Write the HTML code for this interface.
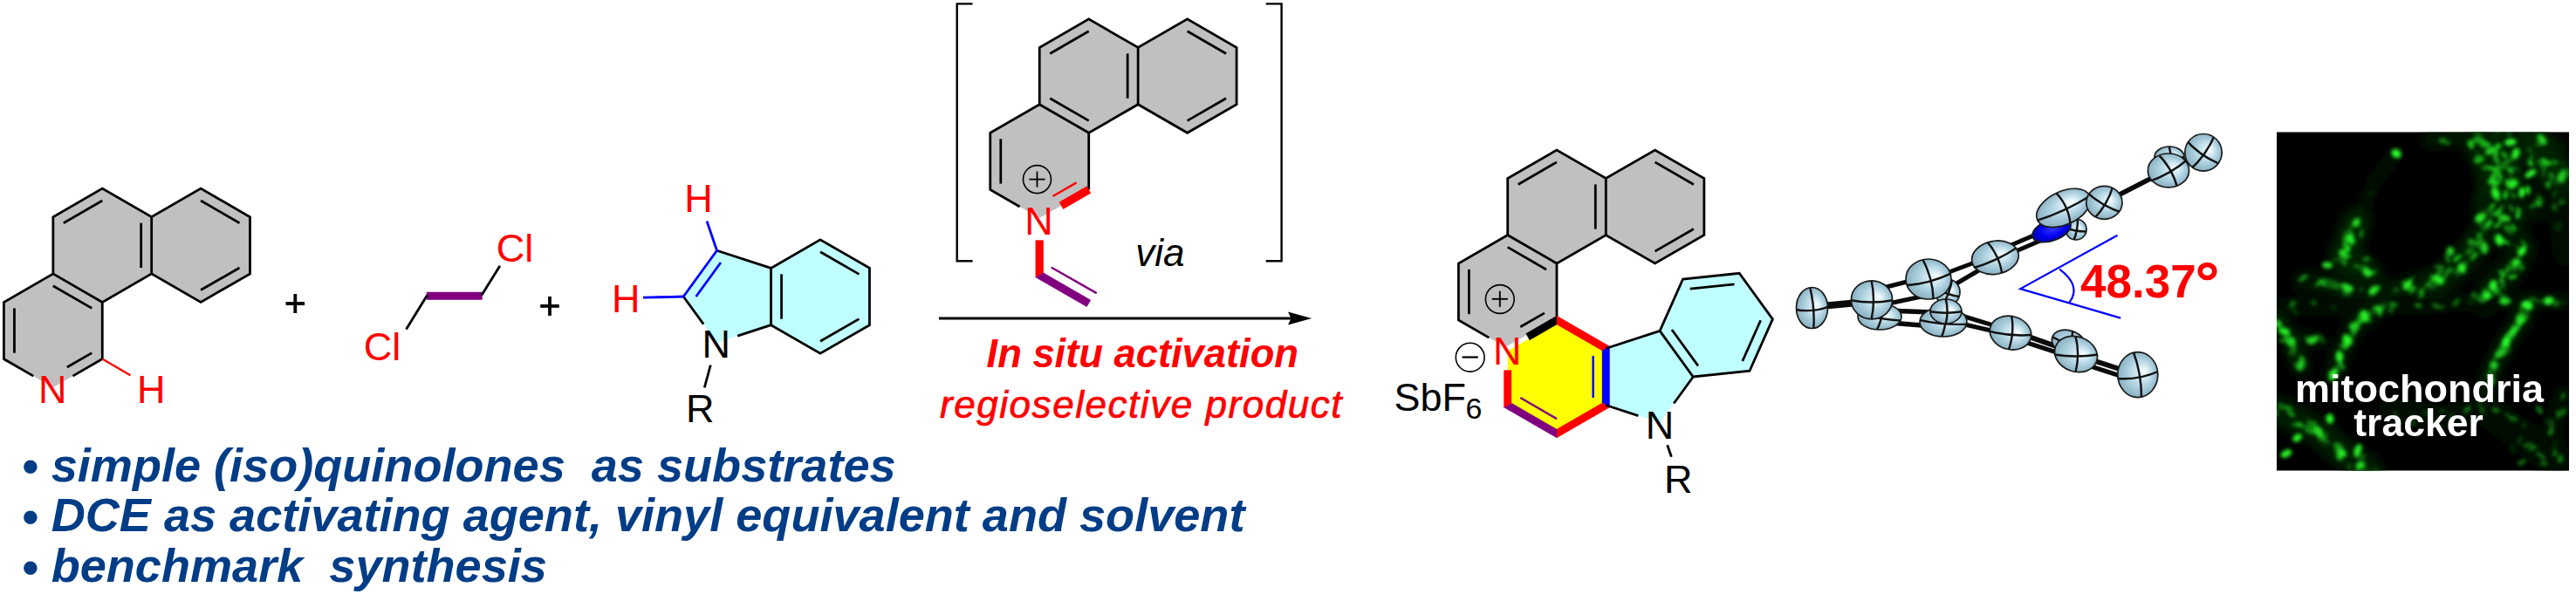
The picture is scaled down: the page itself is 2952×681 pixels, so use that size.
<!DOCTYPE html>
<html><head><meta charset="utf-8"><style>
html,body{margin:0;padding:0;background:#fff;}
body{width:2952px;height:681px;overflow:hidden;position:relative;}
svg{position:absolute;left:0;top:0;}
svg text{font-family:"Liberation Sans", sans-serif;}
</style></head><body>
<svg width="2952" height="681" viewBox="0 0 2952 681">
<defs><radialGradient id="eg" cx="0.5" cy="0.5" r="0.55" fx="0.68" fy="0.42"><stop offset="0" stop-color="#ffffff"/><stop offset="0.18" stop-color="#dff0f7"/><stop offset="0.55" stop-color="#b0d3e1"/><stop offset="0.88" stop-color="#8fb5c5"/><stop offset="1" stop-color="#6f93a2"/></radialGradient>
<radialGradient id="ebl" cx="0.5" cy="0.5" r="0.55" fx="0.6" fy="0.4"><stop offset="0" stop-color="#4040ff"/><stop offset="0.6" stop-color="#0000f0"/><stop offset="1" stop-color="#0000a0"/></radialGradient>
<filter id="bl" x="-20%" y="-20%" width="140%" height="140%"><feGaussianBlur stdDeviation="6"/></filter>
<filter id="bl2" x="-20%" y="-20%" width="140%" height="140%"><feGaussianBlur stdDeviation="2.2"/></filter>
<clipPath id="mc"><rect x="2609" y="151.5" width="335" height="388"/></clipPath></defs>
<polygon points="117.26,216.16 173.67,248.73 230.09,216.16 286.50,248.73 286.50,313.87 230.09,346.44 173.67,313.87 117.26,346.44 117.26,411.58 60.85,444.15 4.43,411.58 4.43,346.44 60.85,313.87 60.85,248.73" fill="#c0c0c0"/>
<polyline points="60.85,313.87 60.85,248.73 117.26,216.16 173.67,248.73 230.09,216.16 286.50,248.73 286.50,313.87 230.09,346.44 173.67,313.87 117.26,346.44 117.26,411.58" fill="none" stroke="#000" stroke-width="2.80" stroke-linejoin="miter"/>
<line x1="173.67" y1="248.73" x2="173.67" y2="313.87" stroke="#000" stroke-width="2.80" stroke-linecap="butt"/>
<line x1="117.26" y1="346.44" x2="60.85" y2="313.87" stroke="#000" stroke-width="2.80" stroke-linecap="butt"/>
<polyline points="38.28,431.12 4.43,411.58 4.43,346.44 60.85,313.87" fill="none" stroke="#000" stroke-width="2.80" stroke-linejoin="miter"/>
<line x1="117.26" y1="411.58" x2="83.41" y2="431.12" stroke="#000" stroke-width="2.80" stroke-linecap="butt"/>
<line x1="72.86" y1="255.67" x2="117.26" y2="230.03" stroke="#000" stroke-width="2.80" stroke-linecap="butt"/>
<line x1="161.66" y1="255.67" x2="161.66" y2="306.93" stroke="#000" stroke-width="2.80" stroke-linecap="butt"/>
<line x1="230.09" y1="230.03" x2="274.48" y2="255.67" stroke="#000" stroke-width="2.80" stroke-linecap="butt"/>
<line x1="274.48" y1="306.93" x2="230.09" y2="332.57" stroke="#000" stroke-width="2.80" stroke-linecap="butt"/>
<line x1="60.85" y1="327.74" x2="105.24" y2="353.38" stroke="#000" stroke-width="2.80" stroke-linecap="butt"/>
<line x1="16.45" y1="404.64" x2="16.45" y2="353.38" stroke="#000" stroke-width="2.80" stroke-linecap="butt"/>
<line x1="105.24" y1="404.64" x2="76.83" y2="421.05" stroke="#000" stroke-width="2.80" stroke-linecap="butt"/>
<line x1="117.26" y1="411.58" x2="149.42" y2="430.14" stroke="#ff0000" stroke-width="2.30" stroke-linecap="butt"/>
<text x="60.20" y="462.11" font-size="45.0" fill="#ff0000" text-anchor="middle" font-weight="normal" font-style="normal" >N</text>
<text x="173.20" y="462.36" font-size="45.0" fill="#ff0000" text-anchor="middle" font-weight="normal" font-style="normal" >H</text>
<line x1="327.55" y1="348.00" x2="349.05" y2="348.00" stroke="#000" stroke-width="3.80" stroke-linecap="butt"/>
<line x1="338.30" y1="337.00" x2="338.30" y2="359.00" stroke="#000" stroke-width="3.80" stroke-linecap="butt"/>
<line x1="619.25" y1="350.90" x2="640.75" y2="350.90" stroke="#000" stroke-width="3.80" stroke-linecap="butt"/>
<line x1="630.00" y1="339.90" x2="630.00" y2="361.90" stroke="#000" stroke-width="3.80" stroke-linecap="butt"/>
<line x1="488.70" y1="339.30" x2="552.70" y2="339.30" stroke="#800080" stroke-width="9.00" stroke-linecap="butt"/>
<line x1="489.50" y1="338.50" x2="465.50" y2="377.50" stroke="#000" stroke-width="2.80" stroke-linecap="butt"/>
<line x1="551.90" y1="338.50" x2="572.90" y2="304.80" stroke="#000" stroke-width="2.80" stroke-linecap="butt"/>
<text x="438.00" y="413.36" font-size="45.0" fill="#ff0000" text-anchor="middle" font-weight="normal" font-style="normal" >Cl</text>
<text x="590.00" y="300.36" font-size="45.0" fill="#ff0000" text-anchor="middle" font-weight="normal" font-style="normal" >Cl</text>
<polygon points="940.00,274.80 996.46,307.40 996.46,372.60 940.00,405.20 883.54,372.60 883.54,372.60 821.53,392.75 783.20,340.00 821.53,287.25 883.54,307.40 883.54,307.40" fill="#c0ffff"/>
<polyline points="821.53,287.25 883.54,307.40 940.00,274.80 996.46,307.40 996.46,372.60 940.00,405.20 883.54,372.60 883.54,307.40" fill="none" stroke="#000" stroke-width="2.80" stroke-linejoin="miter"/>
<line x1="883.54" y1="372.60" x2="845.09" y2="385.09" stroke="#000" stroke-width="2.80" stroke-linecap="butt"/>
<line x1="783.20" y1="340.00" x2="806.20" y2="371.65" stroke="#000" stroke-width="2.80" stroke-linecap="butt"/>
<line x1="783.20" y1="340.00" x2="821.53" y2="287.25" stroke="#0000ff" stroke-width="2.80" stroke-linecap="round"/>
<line x1="797.62" y1="340.00" x2="825.98" y2="300.97" stroke="#0000ff" stroke-width="2.80" stroke-linecap="butt"/>
<line x1="895.56" y1="365.66" x2="895.56" y2="314.34" stroke="#000" stroke-width="2.80" stroke-linecap="butt"/>
<line x1="940.00" y1="288.69" x2="984.44" y2="314.34" stroke="#000" stroke-width="2.80" stroke-linecap="butt"/>
<line x1="984.44" y1="365.66" x2="940.00" y2="391.31" stroke="#000" stroke-width="2.80" stroke-linecap="butt"/>
<line x1="821.53" y1="287.25" x2="810.03" y2="253.45" stroke="#0000ff" stroke-width="2.80" stroke-linecap="butt"/>
<line x1="783.20" y1="340.00" x2="737.00" y2="341.19" stroke="#0000ff" stroke-width="2.80" stroke-linecap="butt"/>
<text x="800.50" y="243.26" font-size="45.0" fill="#ff0000" text-anchor="middle" font-weight="normal" font-style="normal" >H</text>
<text x="717.20" y="358.06" font-size="45.0" fill="#ff0000" text-anchor="middle" font-weight="normal" font-style="normal" >H</text>
<text x="820.75" y="409.66" font-size="45.0" fill="#000" text-anchor="middle" font-weight="normal" font-style="normal" >N</text>
<text x="802.20" y="484.26" font-size="45.0" fill="#000" text-anchor="middle" font-weight="normal" font-style="normal" >R</text>
<line x1="814.30" y1="418.50" x2="807.30" y2="444.40" stroke="#000" stroke-width="2.80" stroke-linecap="butt"/>
<text x="24.70" y="551.50" font-size="54.1" fill="#003d86" text-anchor="start" font-weight="bold" font-style="italic" style="white-space:pre"><tspan dy="1.5">•</tspan><tspan dy="-1.5"> simple (iso)quinolones  as substrates</tspan></text>
<text x="24.70" y="609.20" font-size="54.1" fill="#003d86" text-anchor="start" font-weight="bold" font-style="italic" style="white-space:pre"><tspan dy="1.5">•</tspan><tspan dy="-1.5"> DCE as activating agent, vinyl equivalent and solvent</tspan></text>
<text x="24.70" y="667.00" font-size="54.1" fill="#003d86" text-anchor="start" font-weight="bold" font-style="italic" style="white-space:pre"><tspan dy="1.5">•</tspan><tspan dy="-1.5"> benchmark  synthesis</tspan></text>
<line x1="1076.00" y1="365.00" x2="1480.00" y2="365.00" stroke="#000" stroke-width="2.80" stroke-linecap="butt"/>
<polygon points="1503.2,365 1476,357.5 1479.5,365 1476,372.5" fill="#000"/>
<text x="1130.60" y="421.00" font-size="45.3" fill="#ff0000" text-anchor="start" font-weight="bold" font-style="italic" >In situ activation</text>
<text x="1077.00" y="478.60" font-size="44.0" fill="#ff0000" text-anchor="start" font-weight="normal" font-style="italic" letter-spacing="1.55" stroke="#ff0000" stroke-width="0.7">regioselective product</text>
<text x="1301.30" y="305.40" font-size="44.0" fill="#000" text-anchor="start" font-weight="normal" font-style="italic" >via</text>
<polyline points="1114.50,4.40 1096.70,4.40 1096.70,299.20 1114.50,299.20" fill="none" stroke="#000" stroke-width="2.40" stroke-linejoin="miter"/>
<polyline points="1450.70,4.40 1468.60,4.40 1468.60,299.20 1450.70,299.20" fill="none" stroke="#000" stroke-width="2.40" stroke-linejoin="miter"/>
<polygon points="1247.70,21.90 1304.16,54.50 1360.63,21.90 1417.09,54.50 1417.09,119.70 1360.63,152.30 1304.16,119.70 1247.70,152.30 1247.70,217.50 1191.24,250.10 1134.77,217.50 1134.77,152.30 1191.24,119.70 1191.24,54.50" fill="#c0c0c0"/>
<polyline points="1191.24,119.70 1191.24,54.50 1247.70,21.90 1304.16,54.50 1360.63,21.90 1417.09,54.50 1417.09,119.70 1360.63,152.30 1304.16,119.70 1247.70,152.30 1247.70,217.50" fill="none" stroke="#000" stroke-width="2.80" stroke-linejoin="miter"/>
<line x1="1304.16" y1="54.50" x2="1304.16" y2="119.70" stroke="#000" stroke-width="2.80" stroke-linecap="butt"/>
<line x1="1247.70" y1="152.30" x2="1191.24" y2="119.70" stroke="#000" stroke-width="2.80" stroke-linecap="butt"/>
<polyline points="1168.65,237.06 1134.77,217.50 1134.77,152.30 1191.24,119.70" fill="none" stroke="#000" stroke-width="2.80" stroke-linejoin="miter"/>
<line x1="1203.26" y1="61.44" x2="1247.70" y2="35.79" stroke="#000" stroke-width="2.80" stroke-linecap="butt"/>
<line x1="1292.14" y1="61.44" x2="1292.14" y2="112.76" stroke="#000" stroke-width="2.80" stroke-linecap="butt"/>
<line x1="1247.70" y1="138.41" x2="1203.26" y2="112.76" stroke="#000" stroke-width="2.80" stroke-linecap="butt"/>
<line x1="1360.63" y1="35.79" x2="1405.07" y2="61.44" stroke="#000" stroke-width="2.80" stroke-linecap="butt"/>
<line x1="1405.07" y1="112.76" x2="1360.63" y2="138.41" stroke="#000" stroke-width="2.80" stroke-linecap="butt"/>
<line x1="1146.80" y1="210.56" x2="1146.80" y2="159.24" stroke="#000" stroke-width="2.80" stroke-linecap="butt"/>
<line x1="1233.58" y1="209.35" x2="1206.48" y2="225.00" stroke="#ff0000" stroke-width="2.40" stroke-linecap="butt"/>
<polygon points="1245.45,213.60 1213.83,231.86 1218.33,239.65 1249.95,221.40" fill="#ff0000" stroke="#ff0000" stroke-width="0.3"/>
<circle cx="1188.5" cy="205.6" r="16" fill="none" stroke="#000" stroke-width="1.6"/>
<line x1="1179.50" y1="205.60" x2="1197.50" y2="205.60" stroke="#000" stroke-width="1.80" stroke-linecap="butt"/>
<line x1="1188.50" y1="196.60" x2="1188.50" y2="214.60" stroke="#000" stroke-width="1.80" stroke-linecap="butt"/>
<text x="1190.50" y="268.56" font-size="45.0" fill="#ff0000" text-anchor="middle" font-weight="normal" font-style="normal" >N</text>
<polygon points="1186.74,275.50 1186.74,317.90 1195.74,312.70 1195.74,275.50" fill="#ff0000" stroke="#ff0000" stroke-width="0.3"/>
<polygon points="1186.74,317.90 1245.45,351.80 1249.95,344.00 1195.74,312.70" fill="#800080" stroke="#800080" stroke-width="0.3"/>
<line x1="1205.60" y1="307.00" x2="1255.80" y2="335.70" stroke="#800080" stroke-width="2.50" stroke-linecap="round"/>
<polygon points="1784.00,172.00 1840.29,204.50 1896.58,172.00 1952.87,204.50 1952.87,269.50 1896.58,302.00 1840.29,269.50 1784.00,302.00 1784.00,367.00 1727.71,399.50 1671.42,367.00 1671.42,302.00 1727.71,269.50 1727.71,204.50" fill="#c0c0c0"/>
<polygon points="1784.00,367.00 1840.29,399.50 1840.29,464.50 1784.00,497.00 1727.71,464.50 1727.71,399.50" fill="#ffff00"/>
<polygon points="1840.29,399.50 1902.11,379.41 1928.55,320.03 1993.19,313.24 2031.40,365.83 2004.96,425.21 1940.32,432.00 1902.11,484.59 1840.29,464.50" fill="#c0ffff"/>
<line x1="1727.71" y1="399.50" x2="1784.00" y2="367.00" stroke="#fff" stroke-width="5.00" stroke-linecap="butt"/>
<polyline points="1727.71,269.50 1727.71,204.50 1784.00,172.00 1840.29,204.50 1896.58,172.00 1952.87,204.50 1952.87,269.50 1896.58,302.00 1840.29,269.50 1784.00,302.00 1784.00,367.00" fill="none" stroke="#000" stroke-width="2.80" stroke-linejoin="miter"/>
<line x1="1840.29" y1="204.50" x2="1840.29" y2="269.50" stroke="#000" stroke-width="2.80" stroke-linecap="butt"/>
<line x1="1784.00" y1="302.00" x2="1727.71" y2="269.50" stroke="#000" stroke-width="2.80" stroke-linecap="butt"/>
<polyline points="1706.32,387.15 1671.42,367.00 1671.42,302.00 1727.71,269.50" fill="none" stroke="#000" stroke-width="2.80" stroke-linejoin="miter"/>
<line x1="1739.70" y1="211.42" x2="1784.00" y2="185.84" stroke="#000" stroke-width="2.80" stroke-linecap="butt"/>
<line x1="1828.30" y1="211.42" x2="1828.30" y2="262.58" stroke="#000" stroke-width="2.80" stroke-linecap="butt"/>
<line x1="1896.58" y1="185.84" x2="1940.88" y2="211.42" stroke="#000" stroke-width="2.80" stroke-linecap="butt"/>
<line x1="1940.88" y1="262.58" x2="1896.58" y2="288.15" stroke="#000" stroke-width="2.80" stroke-linecap="butt"/>
<line x1="1727.71" y1="283.35" x2="1772.01" y2="308.92" stroke="#000" stroke-width="2.80" stroke-linecap="butt"/>
<line x1="1683.41" y1="360.08" x2="1683.41" y2="308.92" stroke="#000" stroke-width="2.80" stroke-linecap="butt"/>
<line x1="1769.93" y1="358.88" x2="1742.32" y2="374.82" stroke="#000" stroke-width="2.80" stroke-linecap="butt"/>
<polygon points="1752.94,389.90 1784.00,371.97 1784.00,362.03 1748.64,382.45" fill="#000" stroke="#000" stroke-width="0.3"/>
<polygon points="1784.00,371.97 1835.99,401.98 1844.59,397.02 1784.00,362.03" fill="#ff0000" stroke="#ff0000" stroke-width="0.3"/>
<polygon points="1835.99,401.98 1835.99,462.02 1844.59,466.98 1844.59,397.02" fill="#0000ff" stroke="#0000ff" stroke-width="0.3"/>
<polygon points="1835.99,462.02 1784.00,492.03 1784.00,501.97 1844.59,466.98" fill="#ff0000" stroke="#ff0000" stroke-width="0.3"/>
<polygon points="1784.00,492.03 1732.01,462.02 1723.41,466.98 1784.00,501.97" fill="#800080" stroke="#800080" stroke-width="0.3"/>
<polygon points="1732.01,462.02 1732.01,424.52 1723.41,424.52 1723.41,466.98" fill="#ff0000" stroke="#ff0000" stroke-width="0.3"/>
<line x1="1825.66" y1="407.95" x2="1825.66" y2="456.05" stroke="#0000ff" stroke-width="2.40" stroke-linecap="butt"/>
<line x1="1784.00" y1="480.10" x2="1742.34" y2="456.05" stroke="#800080" stroke-width="2.40" stroke-linecap="butt"/>
<polyline points="1902.11,379.41 1928.55,320.03 1993.19,313.24 2031.40,365.83 2004.96,425.21 1940.32,432.00 1902.11,379.41" fill="none" stroke="#000" stroke-width="2.80" stroke-linejoin="miter"/>
<line x1="1840.29" y1="399.50" x2="1902.11" y2="379.41" stroke="#000" stroke-width="2.80" stroke-linecap="butt"/>
<line x1="1940.32" y1="432.00" x2="1918.16" y2="462.50" stroke="#000" stroke-width="2.80" stroke-linecap="butt"/>
<line x1="1840.29" y1="464.50" x2="1877.38" y2="476.55" stroke="#000" stroke-width="2.80" stroke-linecap="butt"/>
<line x1="1915.88" y1="377.97" x2="1945.95" y2="419.35" stroke="#000" stroke-width="2.80" stroke-linecap="butt"/>
<line x1="1936.69" y1="331.23" x2="1987.56" y2="325.89" stroke="#000" stroke-width="2.80" stroke-linecap="butt"/>
<line x1="2017.63" y1="367.27" x2="1996.82" y2="414.00" stroke="#000" stroke-width="2.80" stroke-linecap="butt"/>
<text x="1901.90" y="503.36" font-size="45.0" fill="#000" text-anchor="middle" font-weight="normal" font-style="normal" >N</text>
<text x="1923.20" y="565.46" font-size="45.0" fill="#000" text-anchor="middle" font-weight="normal" font-style="normal" >R</text>
<line x1="1910.70" y1="510.30" x2="1915.40" y2="523.70" stroke="#000" stroke-width="2.80" stroke-linecap="butt"/>
<circle cx="1718.8" cy="343" r="16.4" fill="none" stroke="#000" stroke-width="1.6"/>
<line x1="1709.70" y1="342.80" x2="1727.90" y2="342.80" stroke="#000" stroke-width="1.90" stroke-linecap="butt"/>
<line x1="1718.80" y1="333.70" x2="1718.80" y2="351.90" stroke="#000" stroke-width="1.90" stroke-linecap="butt"/>
<text x="1727.30" y="417.96" font-size="45.0" fill="#ff0000" text-anchor="middle" font-weight="normal" font-style="normal" >N</text>
<circle cx="1684.7" cy="409.7" r="16.4" fill="none" stroke="#000" stroke-width="1.6"/>
<line x1="1675.60" y1="409.50" x2="1693.80" y2="409.50" stroke="#000" stroke-width="2.20" stroke-linecap="butt"/>
<text x="1597.50" y="470.70" font-size="45.0" fill="#000" text-anchor="start" font-weight="normal" font-style="normal" >SbF</text>
<text x="1679.50" y="479.60" font-size="34.0" fill="#000" text-anchor="start" font-weight="normal" font-style="normal" >6</text>
<line x1="2076.00" y1="352.00" x2="2140.00" y2="346.00" stroke="#0a0a0a" stroke-width="8.00" stroke-linecap="round"/>
<line x1="2150.00" y1="332.00" x2="2205.00" y2="318.00" stroke="#0a0a0a" stroke-width="5.00" stroke-linecap="round"/>
<line x1="2155.00" y1="350.00" x2="2230.00" y2="334.00" stroke="#0a0a0a" stroke-width="5.00" stroke-linecap="round"/>
<line x1="2236.00" y1="311.00" x2="2268.00" y2="299.00" stroke="#0a0a0a" stroke-width="5.00" stroke-linecap="round"/>
<line x1="2237.00" y1="328.00" x2="2271.00" y2="308.00" stroke="#0a0a0a" stroke-width="5.00" stroke-linecap="round"/>
<line x1="2300.00" y1="283.00" x2="2335.00" y2="268.00" stroke="#0a0a0a" stroke-width="5.00" stroke-linecap="round"/>
<line x1="2303.00" y1="291.00" x2="2338.00" y2="276.00" stroke="#0a0a0a" stroke-width="5.00" stroke-linecap="round"/>
<line x1="2160.00" y1="356.00" x2="2215.00" y2="358.00" stroke="#0a0a0a" stroke-width="5.50" stroke-linecap="round"/>
<line x1="2165.00" y1="370.00" x2="2215.00" y2="374.00" stroke="#0a0a0a" stroke-width="5.50" stroke-linecap="round"/>
<line x1="2245.00" y1="361.00" x2="2288.00" y2="374.00" stroke="#0a0a0a" stroke-width="5.00" stroke-linecap="round"/>
<line x1="2243.00" y1="370.00" x2="2286.00" y2="380.00" stroke="#0a0a0a" stroke-width="5.00" stroke-linecap="round"/>
<line x1="2322.00" y1="385.00" x2="2362.00" y2="399.00" stroke="#0a0a0a" stroke-width="6.00" stroke-linecap="round"/>
<line x1="2320.00" y1="392.00" x2="2360.00" y2="405.00" stroke="#0a0a0a" stroke-width="5.00" stroke-linecap="round"/>
<line x1="2398.00" y1="413.00" x2="2432.00" y2="424.00" stroke="#0a0a0a" stroke-width="6.00" stroke-linecap="round"/>
<line x1="2396.00" y1="420.00" x2="2430.00" y2="431.00" stroke="#0a0a0a" stroke-width="5.00" stroke-linecap="round"/>
<line x1="2427.00" y1="224.00" x2="2466.00" y2="204.00" stroke="#0a0a0a" stroke-width="5.50" stroke-linecap="round"/>
<line x1="2503.00" y1="185.00" x2="2512.00" y2="181.00" stroke="#0a0a0a" stroke-width="6.00" stroke-linecap="round"/>
<g transform="translate(2076.5,353.0) rotate(0.0)">
<ellipse cx="0" cy="0" rx="18.0" ry="23.5" fill="url(#eg)" stroke="#1a1a1a" stroke-width="1.7"/>
<clipPath id="c131"><ellipse cx="0" cy="0" rx="18.0" ry="23.5"/></clipPath>
<g clip-path="url(#c131)" transform="rotate(-5.0)"><path d="M-23.4,-1.2 Q0,7.0 23.4,-1.2" fill="none" stroke="#111" stroke-width="2.4"/><path d="M-1.4,-30.6 Q4.5,0 -1.4,30.6" fill="none" stroke="#111" stroke-width="2.4"/></g>
</g>
<g transform="translate(2154.0,363.0) rotate(0.0)">
<ellipse cx="0" cy="0" rx="25.0" ry="15.0" fill="url(#eg)" stroke="#1a1a1a" stroke-width="1.7"/>
<clipPath id="c136"><ellipse cx="0" cy="0" rx="25.0" ry="15.0"/></clipPath>
<g clip-path="url(#c136)" transform="rotate(10.0)"><path d="M-32.5,-0.8 Q0,4.5 32.5,-0.8" fill="none" stroke="#111" stroke-width="2.4"/><path d="M-2.0,-19.5 Q6.2,0 -2.0,19.5" fill="none" stroke="#111" stroke-width="2.4"/></g>
</g>
<g transform="translate(2145.0,343.8) rotate(0.0)">
<ellipse cx="0" cy="0" rx="23.6" ry="22.0" fill="url(#eg)" stroke="#1a1a1a" stroke-width="1.7"/>
<clipPath id="c141"><ellipse cx="0" cy="0" rx="23.6" ry="22.0"/></clipPath>
<g clip-path="url(#c141)" transform="rotate(0.0)"><path d="M-30.7,-1.1 Q0,6.6 30.7,-1.1" fill="none" stroke="#111" stroke-width="2.4"/><path d="M-1.9,-28.6 Q5.9,0 -1.9,28.6" fill="none" stroke="#111" stroke-width="2.4"/></g>
</g>
<g transform="translate(2232.0,335.0) rotate(0.0)">
<ellipse cx="0" cy="0" rx="14.0" ry="15.0" fill="url(#eg)" stroke="#1a1a1a" stroke-width="1.7"/>
<clipPath id="c146"><ellipse cx="0" cy="0" rx="14.0" ry="15.0"/></clipPath>
<g clip-path="url(#c146)" transform="rotate(20.0)"><path d="M-18.2,-0.8 Q0,4.5 18.2,-0.8" fill="none" stroke="#111" stroke-width="2.4"/><path d="M-1.1,-19.5 Q3.5,0 -1.1,19.5" fill="none" stroke="#111" stroke-width="2.4"/></g>
</g>
<g transform="translate(2227.0,369.0) rotate(0.0)">
<ellipse cx="0" cy="0" rx="27.0" ry="17.0" fill="url(#eg)" stroke="#1a1a1a" stroke-width="1.7"/>
<clipPath id="c151"><ellipse cx="0" cy="0" rx="27.0" ry="17.0"/></clipPath>
<g clip-path="url(#c151)" transform="rotate(5.0)"><path d="M-35.1,-0.9 Q0,5.1 35.1,-0.9" fill="none" stroke="#111" stroke-width="2.4"/><path d="M-2.2,-22.1 Q6.8,0 -2.2,22.1" fill="none" stroke="#111" stroke-width="2.4"/></g>
</g>
<g transform="translate(2230.0,357.0) rotate(0.0)">
<ellipse cx="0" cy="0" rx="18.0" ry="14.0" fill="url(#eg)" stroke="#1a1a1a" stroke-width="1.7"/>
<clipPath id="c156"><ellipse cx="0" cy="0" rx="18.0" ry="14.0"/></clipPath>
<g clip-path="url(#c156)" transform="rotate(0.0)"><path d="M-23.4,-0.7 Q0,4.2 23.4,-0.7" fill="none" stroke="#111" stroke-width="2.4"/><path d="M-1.4,-18.2 Q4.5,0 -1.4,18.2" fill="none" stroke="#111" stroke-width="2.4"/></g>
</g>
<g transform="translate(2210.0,320.0) rotate(0.0)">
<ellipse cx="0" cy="0" rx="26.0" ry="23.0" fill="url(#eg)" stroke="#1a1a1a" stroke-width="1.7"/>
<clipPath id="c161"><ellipse cx="0" cy="0" rx="26.0" ry="23.0"/></clipPath>
<g clip-path="url(#c161)" transform="rotate(-15.0)"><path d="M-33.8,-1.2 Q0,6.9 33.8,-1.2" fill="none" stroke="#111" stroke-width="2.4"/><path d="M-2.1,-29.9 Q6.5,0 -2.1,29.9" fill="none" stroke="#111" stroke-width="2.4"/></g>
</g>
<g transform="translate(2286.4,295.3) rotate(-10.0)">
<ellipse cx="0" cy="0" rx="27.0" ry="19.0" fill="url(#eg)" stroke="#1a1a1a" stroke-width="1.7"/>
<clipPath id="c166"><ellipse cx="0" cy="0" rx="27.0" ry="19.0"/></clipPath>
<g clip-path="url(#c166)" transform="rotate(-15.0)"><path d="M-35.1,-1.0 Q0,5.7 35.1,-1.0" fill="none" stroke="#111" stroke-width="2.4"/><path d="M-2.2,-24.7 Q6.8,0 -2.2,24.7" fill="none" stroke="#111" stroke-width="2.4"/></g>
</g>
<g transform="translate(2304.0,381.6) rotate(15.0)">
<ellipse cx="0" cy="0" rx="24.0" ry="19.0" fill="url(#eg)" stroke="#1a1a1a" stroke-width="1.7"/>
<clipPath id="c171"><ellipse cx="0" cy="0" rx="24.0" ry="19.0"/></clipPath>
<g clip-path="url(#c171)" transform="rotate(-10.0)"><path d="M-31.2,-1.0 Q0,5.7 31.2,-1.0" fill="none" stroke="#111" stroke-width="2.4"/><path d="M-1.9,-24.7 Q6.0,0 -1.9,24.7" fill="none" stroke="#111" stroke-width="2.4"/></g>
</g>
<g transform="translate(2379.0,263.0) rotate(0.0)">
<ellipse cx="0" cy="0" rx="12.0" ry="12.0" fill="url(#eg)" stroke="#1a1a1a" stroke-width="1.7"/>
<clipPath id="c176"><ellipse cx="0" cy="0" rx="12.0" ry="12.0"/></clipPath>
<g clip-path="url(#c176)" transform="rotate(10.0)"><path d="M-15.6,-0.6 Q0,3.6 15.6,-0.6" fill="none" stroke="#111" stroke-width="2.4"/><path d="M-1.0,-15.6 Q3.0,0 -1.0,15.6" fill="none" stroke="#111" stroke-width="2.4"/></g>
</g>
<g transform="translate(2351.0,264.0) rotate(-20.0)">
<ellipse cx="0" cy="0" rx="23.0" ry="12.0" fill="url(#ebl)" stroke="#1a1a1a" stroke-width="1.7"/>
</g>
<g transform="translate(2364.8,238.4) rotate(-25.0)">
<ellipse cx="0" cy="0" rx="33.0" ry="19.0" fill="url(#eg)" stroke="#1a1a1a" stroke-width="1.7"/>
<clipPath id="c184"><ellipse cx="0" cy="0" rx="33.0" ry="19.0"/></clipPath>
<g clip-path="url(#c184)" transform="rotate(0.0)"><path d="M-42.9,-1.0 Q0,5.7 42.9,-1.0" fill="none" stroke="#111" stroke-width="2.4"/><path d="M-2.6,-24.7 Q8.2,0 -2.6,24.7" fill="none" stroke="#111" stroke-width="2.4"/></g>
</g>
<g transform="translate(2411.4,232.3) rotate(0.0)">
<ellipse cx="0" cy="0" rx="20.6" ry="19.0" fill="url(#eg)" stroke="#1a1a1a" stroke-width="1.7"/>
<clipPath id="c189"><ellipse cx="0" cy="0" rx="20.6" ry="19.0"/></clipPath>
<g clip-path="url(#c189)" transform="rotate(30.0)"><path d="M-26.8,-1.0 Q0,5.7 26.8,-1.0" fill="none" stroke="#111" stroke-width="2.4"/><path d="M-1.6,-24.7 Q5.2,0 -1.6,24.7" fill="none" stroke="#111" stroke-width="2.4"/></g>
</g>
<g transform="translate(2370.8,393.0) rotate(20.0)">
<ellipse cx="0" cy="0" rx="20.0" ry="14.0" fill="url(#eg)" stroke="#1a1a1a" stroke-width="1.7"/>
<clipPath id="c194"><ellipse cx="0" cy="0" rx="20.0" ry="14.0"/></clipPath>
<g clip-path="url(#c194)" transform="rotate(0.0)"><path d="M-26.0,-0.7 Q0,4.2 26.0,-0.7" fill="none" stroke="#111" stroke-width="2.4"/><path d="M-1.6,-18.2 Q5.0,0 -1.6,18.2" fill="none" stroke="#111" stroke-width="2.4"/></g>
</g>
<g transform="translate(2379.0,406.0) rotate(20.0)">
<ellipse cx="0" cy="0" rx="25.0" ry="20.0" fill="url(#eg)" stroke="#1a1a1a" stroke-width="1.7"/>
<clipPath id="c199"><ellipse cx="0" cy="0" rx="25.0" ry="20.0"/></clipPath>
<g clip-path="url(#c199)" transform="rotate(-20.0)"><path d="M-32.5,-1.0 Q0,6.0 32.5,-1.0" fill="none" stroke="#111" stroke-width="2.4"/><path d="M-2.0,-26.0 Q6.2,0 -2.0,26.0" fill="none" stroke="#111" stroke-width="2.4"/></g>
</g>
<g transform="translate(2449.8,429.6) rotate(0.0)">
<ellipse cx="0" cy="0" rx="23.0" ry="26.0" fill="url(#eg)" stroke="#1a1a1a" stroke-width="1.7"/>
<clipPath id="c204"><ellipse cx="0" cy="0" rx="23.0" ry="26.0"/></clipPath>
<g clip-path="url(#c204)" transform="rotate(-10.0)"><path d="M-29.9,-1.3 Q0,7.8 29.9,-1.3" fill="none" stroke="#111" stroke-width="2.4"/><path d="M-1.8,-33.8 Q5.8,0 -1.8,33.8" fill="none" stroke="#111" stroke-width="2.4"/></g>
</g>
<g transform="translate(2486.0,180.0) rotate(0.0)">
<ellipse cx="0" cy="0" rx="17.0" ry="12.0" fill="url(#eg)" stroke="#1a1a1a" stroke-width="1.7"/>
<clipPath id="c209"><ellipse cx="0" cy="0" rx="17.0" ry="12.0"/></clipPath>
<g clip-path="url(#c209)" transform="rotate(0.0)"><path d="M-22.1,-0.6 Q0,3.6 22.1,-0.6" fill="none" stroke="#111" stroke-width="2.4"/><path d="M-1.4,-15.6 Q4.2,0 -1.4,15.6" fill="none" stroke="#111" stroke-width="2.4"/></g>
</g>
<g transform="translate(2485.0,195.4) rotate(0.0)">
<ellipse cx="0" cy="0" rx="23.6" ry="19.4" fill="url(#eg)" stroke="#1a1a1a" stroke-width="1.7"/>
<clipPath id="c214"><ellipse cx="0" cy="0" rx="23.6" ry="19.4"/></clipPath>
<g clip-path="url(#c214)" transform="rotate(-30.0)"><path d="M-30.7,-1.0 Q0,5.8 30.7,-1.0" fill="none" stroke="#111" stroke-width="2.4"/><path d="M-1.9,-25.2 Q5.9,0 -1.9,25.2" fill="none" stroke="#111" stroke-width="2.4"/></g>
</g>
<g transform="translate(2525.0,174.8) rotate(0.0)">
<ellipse cx="0" cy="0" rx="21.2" ry="21.3" fill="url(#eg)" stroke="#1a1a1a" stroke-width="1.7"/>
<clipPath id="c219"><ellipse cx="0" cy="0" rx="21.2" ry="21.3"/></clipPath>
<g clip-path="url(#c219)" transform="rotate(35.0)"><path d="M-27.6,-1.1 Q0,6.4 27.6,-1.1" fill="none" stroke="#111" stroke-width="2.4"/><path d="M-1.7,-27.7 Q5.3,0 -1.7,27.7" fill="none" stroke="#111" stroke-width="2.4"/></g>
</g>
<polyline points="2426.50,269.80 2315.30,331.10 2430.20,364.60" fill="none" stroke="#0000ff" stroke-width="2.20" stroke-linejoin="miter"/>
<path d="M2360.2,308.6 Q2386,328 2371.1,347.1" fill="none" stroke="#0000ff" stroke-width="2.2"/>
<text x="2384.00" y="341.00" font-size="53.0" fill="#ff0000" text-anchor="start" font-weight="bold" font-style="normal" >48.37</text>
<ellipse cx="2529.5" cy="311" rx="8.3" ry="7.6" fill="none" stroke="#ff0000" stroke-width="5.5"/>
<rect x="2609" y="151.5" width="335" height="388" fill="#000"/>
<g clip-path="url(#mc)">
<g filter="url(#bl)" fill="none" stroke-linecap="round">
<polyline points="2847.00,155.00 2862.00,185.00 2868.00,215.00 2862.00,235.00" stroke="rgb(0,36,0)" stroke-width="56" stroke-linejoin="round"/>
<polyline points="2890.00,160.00 2925.00,175.00 2935.00,215.00 2900.00,235.00" stroke="rgb(0,21,0)" stroke-width="38" stroke-linejoin="round"/>
<polyline points="2905.00,158.00 2915.00,185.00 2930.00,205.00" stroke="rgb(0,32,0)" stroke-width="34" stroke-linejoin="round"/>
<polyline points="2785.00,160.00 2840.00,158.00" stroke="rgb(0,18,0)" stroke-width="21" stroke-linejoin="round"/>
<polyline points="2862.00,235.00 2845.00,270.00 2822.00,300.00 2795.00,322.00 2760.00,332.00" stroke="rgb(0,30,0)" stroke-width="34" stroke-linejoin="round"/>
<polyline points="2868.00,245.00 2890.00,285.00 2880.00,305.00 2855.00,330.00 2848.00,345.00" stroke="rgb(0,25,0)" stroke-width="34" stroke-linejoin="round"/>
<polyline points="2746.00,176.00 2722.00,206.00 2705.00,245.00" stroke="rgb(0,10,0)" stroke-width="19" stroke-linejoin="round"/>
<polyline points="2700.00,255.00 2692.00,278.00 2685.00,295.00 2713.00,313.00" stroke="rgb(0,32,0)" stroke-width="34" stroke-linejoin="round"/>
<polyline points="2640.00,322.00 2690.00,330.00 2736.00,332.00 2760.00,328.00" stroke="rgb(0,25,0)" stroke-width="25" stroke-linejoin="round"/>
<polyline points="2612.00,352.00 2700.00,352.00 2780.00,350.00 2844.00,345.00 2937.00,345.00" stroke="rgb(0,16,0)" stroke-width="21" stroke-linejoin="round"/>
<polyline points="2610.00,368.00 2626.00,392.00 2637.00,420.00" stroke="rgb(0,32,0)" stroke-width="21" stroke-linejoin="round"/>
<polyline points="2640.00,385.00 2660.00,392.00" stroke="rgb(0,21,0)" stroke-width="16" stroke-linejoin="round"/>
<polyline points="2726.00,354.00 2698.00,374.00 2681.00,409.00 2674.00,432.00" stroke="rgb(0,28,0)" stroke-width="21" stroke-linejoin="round"/>
<polyline points="2896.00,350.00 2889.00,368.00 2872.00,392.00 2858.00,420.00 2850.00,440.00" stroke="rgb(0,28,0)" stroke-width="23" stroke-linejoin="round"/>
<polyline points="2612.00,471.00 2657.00,495.00 2684.00,519.00 2715.00,540.00" stroke="rgb(0,28,0)" stroke-width="34" stroke-linejoin="round"/>
<polyline points="2937.00,454.00 2923.00,495.00 2934.00,526.00" stroke="rgb(0,10,0)" stroke-width="25" stroke-linejoin="round"/>
<polyline points="2850.00,470.00 2890.00,500.00 2930.00,530.00" stroke="rgb(0,9,0)" stroke-width="38" stroke-linejoin="round"/>
<polyline points="2740.00,470.00 2800.00,480.00 2845.00,468.00" stroke="rgb(0,10,0)" stroke-width="30" stroke-linejoin="round"/>
<polyline points="2906.00,220.00 2935.00,250.00 2940.00,290.00" stroke="rgb(0,12,0)" stroke-width="30" stroke-linejoin="round"/>
</g>
<g filter="url(#bl2)">
<ellipse cx="2839.7" cy="180.7" rx="4.8" ry="2.5" transform="rotate(97 2839.7 180.7)" fill="rgb(20,141,20)"/>
<ellipse cx="2878.0" cy="205.9" rx="3.3" ry="2.8" transform="rotate(61 2878.0 205.9)" fill="rgb(16,113,16)"/>
<ellipse cx="2897.1" cy="218.0" rx="5.3" ry="2.5" transform="rotate(82 2897.1 218.0)" fill="rgb(32,228,32)"/>
<ellipse cx="2865.8" cy="202.8" rx="3.1" ry="2.4" transform="rotate(88 2865.8 202.8)" fill="rgb(14,102,14)"/>
<ellipse cx="2870.1" cy="177.7" rx="4.7" ry="2.6" transform="rotate(47 2870.1 177.7)" fill="rgb(24,172,24)"/>
<ellipse cx="2864.4" cy="255.9" rx="4.1" ry="2.1" transform="rotate(104 2864.4 255.9)" fill="rgb(26,183,26)"/>
<ellipse cx="2874.9" cy="185.0" rx="6.0" ry="2.3" transform="rotate(138 2874.9 185.0)" fill="rgb(18,130,18)"/>
<ellipse cx="2841.5" cy="161.1" rx="6.4" ry="2.3" transform="rotate(148 2841.5 161.1)" fill="rgb(20,142,20)"/>
<ellipse cx="2836.7" cy="146.7" rx="3.3" ry="2.2" transform="rotate(129 2836.7 146.7)" fill="rgb(15,107,15)"/>
<ellipse cx="2847.3" cy="164.1" rx="5.8" ry="2.0" transform="rotate(81 2847.3 164.1)" fill="rgb(10,70,10)"/>
<ellipse cx="2858.0" cy="201.1" rx="3.5" ry="2.6" transform="rotate(109 2858.0 201.1)" fill="rgb(26,188,26)"/>
<ellipse cx="2862.8" cy="167.6" rx="4.1" ry="2.9" transform="rotate(169 2862.8 167.6)" fill="rgb(28,200,28)"/>
<ellipse cx="2838.0" cy="184.3" rx="3.4" ry="3.0" transform="rotate(70 2838.0 184.3)" fill="rgb(24,172,24)"/>
<ellipse cx="2875.8" cy="212.1" rx="3.3" ry="2.5" transform="rotate(136 2875.8 212.1)" fill="rgb(10,72,10)"/>
<ellipse cx="2847.7" cy="167.2" rx="6.4" ry="2.4" transform="rotate(-8 2847.7 167.2)" fill="rgb(19,139,19)"/>
<ellipse cx="2844.0" cy="182.5" rx="3.9" ry="2.0" transform="rotate(135 2844.0 182.5)" fill="rgb(29,203,29)"/>
<ellipse cx="2874.5" cy="211.1" rx="6.1" ry="2.5" transform="rotate(62 2874.5 211.1)" fill="rgb(32,226,32)"/>
<ellipse cx="2850.9" cy="165.8" rx="3.9" ry="2.8" transform="rotate(56 2850.9 165.8)" fill="rgb(26,183,26)"/>
<ellipse cx="2863.5" cy="208.4" rx="3.2" ry="2.1" transform="rotate(5 2863.5 208.4)" fill="rgb(26,186,26)"/>
<ellipse cx="2857.8" cy="198.7" rx="3.1" ry="2.1" transform="rotate(166 2857.8 198.7)" fill="rgb(13,95,13)"/>
<ellipse cx="2869.2" cy="191.8" rx="5.0" ry="2.0" transform="rotate(24 2869.2 191.8)" fill="rgb(17,124,17)"/>
<ellipse cx="2880.1" cy="224.1" rx="3.5" ry="1.8" transform="rotate(55 2880.1 224.1)" fill="rgb(23,162,23)"/>
<ellipse cx="2862.1" cy="147.2" rx="3.1" ry="2.6" transform="rotate(0 2862.1 147.2)" fill="rgb(32,228,32)"/>
<ellipse cx="2861.1" cy="183.6" rx="5.6" ry="2.9" transform="rotate(63 2861.1 183.6)" fill="rgb(22,155,22)"/>
<ellipse cx="2862.1" cy="194.8" rx="4.2" ry="2.6" transform="rotate(144 2862.1 194.8)" fill="rgb(31,220,31)"/>
<ellipse cx="2849.4" cy="192.4" rx="5.2" ry="2.3" transform="rotate(1 2849.4 192.4)" fill="rgb(22,160,22)"/>
<ellipse cx="2861.7" cy="197.8" rx="6.5" ry="2.9" transform="rotate(73 2861.7 197.8)" fill="rgb(24,171,24)"/>
<ellipse cx="2856.9" cy="203.0" rx="3.3" ry="2.7" transform="rotate(57 2856.9 203.0)" fill="rgb(29,206,29)"/>
<ellipse cx="2838.0" cy="149.8" rx="5.4" ry="2.4" transform="rotate(-4 2838.0 149.8)" fill="rgb(14,100,14)"/>
<ellipse cx="2840.4" cy="183.7" rx="3.7" ry="2.0" transform="rotate(65 2840.4 183.7)" fill="rgb(25,178,25)"/>
<ellipse cx="2857.9" cy="217.3" rx="4.1" ry="2.6" transform="rotate(120 2857.9 217.3)" fill="rgb(30,216,30)"/>
<ellipse cx="2877.8" cy="238.7" rx="5.0" ry="2.2" transform="rotate(64 2877.8 238.7)" fill="rgb(18,127,18)"/>
<ellipse cx="2831.2" cy="165.8" rx="5.5" ry="2.9" transform="rotate(59 2831.2 165.8)" fill="rgb(29,208,29)"/>
<ellipse cx="2869.5" cy="188.5" rx="5.2" ry="2.4" transform="rotate(106 2869.5 188.5)" fill="rgb(18,132,18)"/>
<ellipse cx="2875.6" cy="152.6" rx="3.3" ry="1.8" transform="rotate(71 2875.6 152.6)" fill="rgb(19,139,19)"/>
<ellipse cx="2864.9" cy="202.6" rx="3.1" ry="2.0" transform="rotate(63 2864.9 202.6)" fill="rgb(28,198,28)"/>
<ellipse cx="2883.5" cy="193.2" rx="3.5" ry="1.9" transform="rotate(48 2883.5 193.2)" fill="rgb(14,101,14)"/>
<ellipse cx="2857.2" cy="193.4" rx="5.4" ry="2.0" transform="rotate(18 2857.2 193.4)" fill="rgb(32,227,32)"/>
<ellipse cx="2864.0" cy="193.2" rx="5.5" ry="2.0" transform="rotate(73 2864.0 193.2)" fill="rgb(20,142,20)"/>
<ellipse cx="2877.1" cy="195.2" rx="4.4" ry="2.8" transform="rotate(71 2877.1 195.2)" fill="rgb(27,192,27)"/>
<ellipse cx="2886.1" cy="240.7" rx="3.5" ry="2.3" transform="rotate(44 2886.1 240.7)" fill="rgb(26,186,26)"/>
<ellipse cx="2844.2" cy="163.1" rx="6.3" ry="2.4" transform="rotate(28 2844.2 163.1)" fill="rgb(28,199,28)"/>
<ellipse cx="2871.2" cy="223.3" rx="5.2" ry="2.7" transform="rotate(98 2871.2 223.3)" fill="rgb(29,203,29)"/>
<ellipse cx="2885.5" cy="246.9" rx="4.1" ry="2.9" transform="rotate(99 2885.5 246.9)" fill="rgb(28,198,28)"/>
<ellipse cx="2862.9" cy="227.0" rx="4.9" ry="2.7" transform="rotate(97 2862.9 227.0)" fill="rgb(19,137,19)"/>
<ellipse cx="2866.9" cy="237.6" rx="4.2" ry="2.7" transform="rotate(134 2866.9 237.6)" fill="rgb(12,90,12)"/>
<ellipse cx="2860.2" cy="176.3" rx="5.9" ry="2.6" transform="rotate(107 2860.2 176.3)" fill="rgb(26,186,26)"/>
<ellipse cx="2902.6" cy="236.2" rx="4.0" ry="2.7" transform="rotate(164 2902.6 236.2)" fill="rgb(16,115,16)"/>
<ellipse cx="2921.0" cy="210.3" rx="4.1" ry="2.3" transform="rotate(124 2921.0 210.3)" fill="rgb(17,120,17)"/>
<ellipse cx="2900.5" cy="180.7" rx="5.0" ry="2.0" transform="rotate(-61 2900.5 180.7)" fill="rgb(16,115,16)"/>
<ellipse cx="2921.8" cy="200.1" rx="6.4" ry="2.4" transform="rotate(17 2921.8 200.1)" fill="rgb(7,49,7)"/>
<ellipse cx="2939.5" cy="192.7" rx="4.9" ry="2.3" transform="rotate(79 2939.5 192.7)" fill="rgb(7,54,7)"/>
<ellipse cx="2909.4" cy="229.9" rx="3.4" ry="2.3" transform="rotate(184 2909.4 229.9)" fill="rgb(15,108,15)"/>
<ellipse cx="2915.8" cy="191.5" rx="6.2" ry="2.0" transform="rotate(99 2915.8 191.5)" fill="rgb(18,127,18)"/>
<ellipse cx="2927.5" cy="222.6" rx="5.4" ry="2.2" transform="rotate(116 2927.5 222.6)" fill="rgb(10,75,10)"/>
<ellipse cx="2909.2" cy="164.5" rx="3.9" ry="2.0" transform="rotate(2 2909.2 164.5)" fill="rgb(16,113,16)"/>
<ellipse cx="2924.9" cy="202.2" rx="4.9" ry="2.0" transform="rotate(91 2924.9 202.2)" fill="rgb(14,100,14)"/>
<ellipse cx="2943.8" cy="198.7" rx="6.0" ry="2.1" transform="rotate(61 2943.8 198.7)" fill="rgb(18,126,18)"/>
<ellipse cx="2932.5" cy="205.6" rx="4.1" ry="2.9" transform="rotate(178 2932.5 205.6)" fill="rgb(12,87,12)"/>
<ellipse cx="2936.2" cy="231.8" rx="3.9" ry="1.9" transform="rotate(172 2936.2 231.8)" fill="rgb(20,142,20)"/>
<ellipse cx="2906.5" cy="230.9" rx="4.4" ry="2.6" transform="rotate(176 2906.5 230.9)" fill="rgb(8,62,8)"/>
<ellipse cx="2933.5" cy="231.8" rx="4.8" ry="2.7" transform="rotate(94 2933.5 231.8)" fill="rgb(8,60,8)"/>
<ellipse cx="2928.6" cy="192.2" rx="3.4" ry="1.8" transform="rotate(30 2928.6 192.2)" fill="rgb(7,54,7)"/>
<ellipse cx="2929.6" cy="206.8" rx="5.9" ry="3.0" transform="rotate(96 2929.6 206.8)" fill="rgb(10,72,10)"/>
<ellipse cx="2909.7" cy="232.1" rx="4.6" ry="2.7" transform="rotate(129 2909.7 232.1)" fill="rgb(24,172,24)"/>
<ellipse cx="2937.7" cy="189.3" rx="5.5" ry="2.8" transform="rotate(99 2937.7 189.3)" fill="rgb(6,47,6)"/>
<ellipse cx="2898.9" cy="171.8" rx="3.7" ry="2.0" transform="rotate(16 2898.9 171.8)" fill="rgb(14,99,14)"/>
<ellipse cx="2911.0" cy="232.2" rx="5.2" ry="2.3" transform="rotate(91 2911.0 232.2)" fill="rgb(22,160,22)"/>
<ellipse cx="2900.0" cy="187.3" rx="3.9" ry="2.9" transform="rotate(50 2900.0 187.3)" fill="rgb(26,188,26)"/>
<ellipse cx="2913.6" cy="186.4" rx="5.4" ry="2.7" transform="rotate(100 2913.6 186.4)" fill="rgb(28,201,28)"/>
<ellipse cx="2914.4" cy="200.3" rx="4.2" ry="2.4" transform="rotate(90 2914.4 200.3)" fill="rgb(9,68,9)"/>
<ellipse cx="2918.7" cy="186.3" rx="5.3" ry="2.2" transform="rotate(32 2918.7 186.3)" fill="rgb(30,211,30)"/>
<ellipse cx="2912.3" cy="187.2" rx="6.5" ry="2.6" transform="rotate(32 2912.3 187.2)" fill="rgb(17,120,17)"/>
<ellipse cx="2919.7" cy="212.4" rx="3.9" ry="2.3" transform="rotate(61 2919.7 212.4)" fill="rgb(25,177,25)"/>
<ellipse cx="2907.9" cy="166.0" rx="3.9" ry="2.9" transform="rotate(24 2907.9 166.0)" fill="rgb(10,72,10)"/>
<ellipse cx="2926.7" cy="185.8" rx="5.8" ry="1.9" transform="rotate(0 2926.7 185.8)" fill="rgb(23,161,23)"/>
<ellipse cx="2917.1" cy="185.9" rx="3.6" ry="2.4" transform="rotate(75 2917.1 185.9)" fill="rgb(29,209,29)"/>
<ellipse cx="2923.6" cy="201.8" rx="4.8" ry="2.5" transform="rotate(87 2923.6 201.8)" fill="rgb(17,125,17)"/>
<ellipse cx="2804.1" cy="163.5" rx="4.0" ry="2.7" transform="rotate(-3 2804.1 163.5)" fill="rgb(15,110,15)"/>
<ellipse cx="2799.0" cy="161.2" rx="4.4" ry="2.9" transform="rotate(4 2799.0 161.2)" fill="rgb(19,134,19)"/>
<ellipse cx="2834.7" cy="161.3" rx="3.3" ry="2.9" transform="rotate(-43 2834.7 161.3)" fill="rgb(22,157,22)"/>
<ellipse cx="2840.0" cy="158.2" rx="5.5" ry="2.4" transform="rotate(46 2840.0 158.2)" fill="rgb(22,156,22)"/>
<ellipse cx="2840.5" cy="154.3" rx="5.2" ry="2.3" transform="rotate(1 2840.5 154.3)" fill="rgb(8,56,8)"/>
<ellipse cx="2822.8" cy="305.5" rx="4.6" ry="2.1" transform="rotate(171 2822.8 305.5)" fill="rgb(22,160,22)"/>
<ellipse cx="2805.6" cy="311.0" rx="6.5" ry="2.9" transform="rotate(137 2805.6 311.0)" fill="rgb(19,139,19)"/>
<ellipse cx="2850.2" cy="258.4" rx="4.3" ry="2.1" transform="rotate(72 2850.2 258.4)" fill="rgb(22,154,22)"/>
<ellipse cx="2795.5" cy="312.4" rx="5.6" ry="2.0" transform="rotate(141 2795.5 312.4)" fill="rgb(22,155,22)"/>
<ellipse cx="2788.7" cy="329.8" rx="3.9" ry="2.3" transform="rotate(156 2788.7 329.8)" fill="rgb(9,64,9)"/>
<ellipse cx="2816.0" cy="314.3" rx="3.3" ry="2.6" transform="rotate(87 2816.0 314.3)" fill="rgb(9,66,9)"/>
<ellipse cx="2832.4" cy="278.8" rx="5.6" ry="2.8" transform="rotate(131 2832.4 278.8)" fill="rgb(15,109,15)"/>
<ellipse cx="2865.2" cy="252.4" rx="5.7" ry="2.1" transform="rotate(88 2865.2 252.4)" fill="rgb(21,153,21)"/>
<ellipse cx="2789.2" cy="318.3" rx="4.1" ry="2.5" transform="rotate(206 2789.2 318.3)" fill="rgb(30,212,30)"/>
<ellipse cx="2801.5" cy="318.2" rx="3.3" ry="2.9" transform="rotate(155 2801.5 318.2)" fill="rgb(16,113,16)"/>
<ellipse cx="2817.9" cy="295.2" rx="5.7" ry="1.9" transform="rotate(146 2817.9 295.2)" fill="rgb(14,102,14)"/>
<ellipse cx="2846.9" cy="261.3" rx="5.5" ry="2.6" transform="rotate(111 2846.9 261.3)" fill="rgb(14,102,14)"/>
<ellipse cx="2839.7" cy="280.3" rx="5.5" ry="2.5" transform="rotate(89 2839.7 280.3)" fill="rgb(10,73,10)"/>
<ellipse cx="2783.9" cy="323.8" rx="5.8" ry="2.2" transform="rotate(147 2783.9 323.8)" fill="rgb(17,124,17)"/>
<ellipse cx="2774.8" cy="332.9" rx="4.3" ry="2.2" transform="rotate(145 2774.8 332.9)" fill="rgb(16,112,16)"/>
<ellipse cx="2830.1" cy="288.1" rx="5.8" ry="2.4" transform="rotate(154 2830.1 288.1)" fill="rgb(20,144,20)"/>
<ellipse cx="2844.0" cy="259.2" rx="3.1" ry="2.4" transform="rotate(33 2844.0 259.2)" fill="rgb(14,99,14)"/>
<ellipse cx="2804.8" cy="296.0" rx="5.8" ry="1.9" transform="rotate(73 2804.8 296.0)" fill="rgb(22,158,22)"/>
<ellipse cx="2853.5" cy="254.7" rx="3.3" ry="2.6" transform="rotate(148 2853.5 254.7)" fill="rgb(28,197,28)"/>
<ellipse cx="2852.5" cy="245.5" rx="3.8" ry="2.7" transform="rotate(48 2852.5 245.5)" fill="rgb(13,93,13)"/>
<ellipse cx="2831.8" cy="277.2" rx="4.7" ry="2.4" transform="rotate(216 2831.8 277.2)" fill="rgb(23,161,23)"/>
<ellipse cx="2795.3" cy="306.1" rx="5.9" ry="2.6" transform="rotate(184 2795.3 306.1)" fill="rgb(17,119,17)"/>
<ellipse cx="2775.0" cy="336.8" rx="4.8" ry="2.7" transform="rotate(99 2775.0 336.8)" fill="rgb(22,156,22)"/>
<ellipse cx="2782.6" cy="326.9" rx="5.6" ry="3.0" transform="rotate(146 2782.6 326.9)" fill="rgb(11,77,11)"/>
<ellipse cx="2851.4" cy="257.8" rx="3.2" ry="2.2" transform="rotate(131 2851.4 257.8)" fill="rgb(29,209,29)"/>
<ellipse cx="2848.4" cy="242.0" rx="3.2" ry="2.4" transform="rotate(40 2848.4 242.0)" fill="rgb(11,83,11)"/>
<ellipse cx="2853.0" cy="242.8" rx="3.8" ry="2.7" transform="rotate(132 2853.0 242.8)" fill="rgb(12,89,12)"/>
<ellipse cx="2813.9" cy="310.9" rx="3.6" ry="2.7" transform="rotate(121 2813.9 310.9)" fill="rgb(14,99,14)"/>
<ellipse cx="2793.0" cy="319.9" rx="6.2" ry="2.2" transform="rotate(168 2793.0 319.9)" fill="rgb(27,195,27)"/>
<ellipse cx="2825.3" cy="300.9" rx="3.2" ry="2.9" transform="rotate(153 2825.3 300.9)" fill="rgb(12,89,12)"/>
<ellipse cx="2815.4" cy="296.1" rx="5.3" ry="2.1" transform="rotate(137 2815.4 296.1)" fill="rgb(30,212,30)"/>
<ellipse cx="2855.6" cy="237.4" rx="5.5" ry="2.5" transform="rotate(128 2855.6 237.4)" fill="rgb(25,181,25)"/>
<ellipse cx="2842.6" cy="276.2" rx="5.2" ry="3.0" transform="rotate(208 2842.6 276.2)" fill="rgb(19,136,19)"/>
<ellipse cx="2841.3" cy="269.7" rx="3.0" ry="2.8" transform="rotate(169 2841.3 269.7)" fill="rgb(25,177,25)"/>
<ellipse cx="2847.5" cy="244.8" rx="4.7" ry="2.4" transform="rotate(178 2847.5 244.8)" fill="rgb(10,70,10)"/>
<ellipse cx="2756.2" cy="324.1" rx="5.8" ry="2.3" transform="rotate(179 2756.2 324.1)" fill="rgb(14,102,14)"/>
<ellipse cx="2783.4" cy="326.9" rx="3.6" ry="2.8" transform="rotate(212 2783.4 326.9)" fill="rgb(19,138,19)"/>
<ellipse cx="2839.8" cy="277.9" rx="4.6" ry="2.7" transform="rotate(88 2839.8 277.9)" fill="rgb(14,103,14)"/>
<ellipse cx="2862.2" cy="243.8" rx="5.9" ry="2.6" transform="rotate(143 2862.2 243.8)" fill="rgb(29,208,29)"/>
<ellipse cx="2854.4" cy="243.2" rx="5.0" ry="2.3" transform="rotate(239 2854.4 243.2)" fill="rgb(13,92,13)"/>
<ellipse cx="2789.7" cy="326.1" rx="4.3" ry="2.4" transform="rotate(217 2789.7 326.1)" fill="rgb(14,100,14)"/>
<ellipse cx="2838.7" cy="279.2" rx="3.9" ry="2.0" transform="rotate(123 2838.7 279.2)" fill="rgb(22,160,22)"/>
<ellipse cx="2762.5" cy="320.9" rx="5.9" ry="1.9" transform="rotate(139 2762.5 320.9)" fill="rgb(15,107,15)"/>
<ellipse cx="2860.4" cy="258.8" rx="3.6" ry="2.3" transform="rotate(143 2860.4 258.8)" fill="rgb(23,167,23)"/>
<ellipse cx="2849.3" cy="247.5" rx="4.4" ry="1.9" transform="rotate(139 2849.3 247.5)" fill="rgb(10,74,10)"/>
<ellipse cx="2764.9" cy="332.0" rx="5.7" ry="2.8" transform="rotate(136 2764.9 332.0)" fill="rgb(22,157,22)"/>
<ellipse cx="2835.1" cy="293.6" rx="6.4" ry="2.7" transform="rotate(131 2835.1 293.6)" fill="rgb(23,166,23)"/>
<ellipse cx="2871.2" cy="312.2" rx="4.2" ry="2.6" transform="rotate(165 2871.2 312.2)" fill="rgb(13,96,13)"/>
<ellipse cx="2886.7" cy="301.5" rx="3.6" ry="2.7" transform="rotate(44 2886.7 301.5)" fill="rgb(19,136,19)"/>
<ellipse cx="2847.6" cy="332.8" rx="3.5" ry="2.7" transform="rotate(163 2847.6 332.8)" fill="rgb(17,121,17)"/>
<ellipse cx="2866.8" cy="319.6" rx="5.2" ry="2.0" transform="rotate(112 2866.8 319.6)" fill="rgb(26,184,26)"/>
<ellipse cx="2873.1" cy="261.6" rx="4.2" ry="2.9" transform="rotate(32 2873.1 261.6)" fill="rgb(21,149,21)"/>
<ellipse cx="2880.3" cy="261.2" rx="4.9" ry="2.5" transform="rotate(57 2880.3 261.2)" fill="rgb(25,178,25)"/>
<ellipse cx="2879.2" cy="317.4" rx="5.9" ry="2.5" transform="rotate(170 2879.2 317.4)" fill="rgb(27,191,27)"/>
<ellipse cx="2892.5" cy="278.9" rx="5.9" ry="2.0" transform="rotate(43 2892.5 278.9)" fill="rgb(18,131,18)"/>
<ellipse cx="2882.4" cy="303.6" rx="6.5" ry="2.9" transform="rotate(97 2882.4 303.6)" fill="rgb(10,75,10)"/>
<ellipse cx="2866.9" cy="313.4" rx="5.8" ry="1.8" transform="rotate(95 2866.9 313.4)" fill="rgb(19,134,19)"/>
<ellipse cx="2876.3" cy="266.6" rx="5.0" ry="2.0" transform="rotate(30 2876.3 266.6)" fill="rgb(14,104,14)"/>
<ellipse cx="2879.3" cy="300.8" rx="5.3" ry="2.0" transform="rotate(184 2879.3 300.8)" fill="rgb(7,54,7)"/>
<ellipse cx="2844.6" cy="336.6" rx="5.2" ry="2.6" transform="rotate(118 2844.6 336.6)" fill="rgb(15,108,15)"/>
<ellipse cx="2874.4" cy="307.7" rx="4.4" ry="2.3" transform="rotate(113 2874.4 307.7)" fill="rgb(24,171,24)"/>
<ellipse cx="2886.1" cy="300.8" rx="4.5" ry="2.9" transform="rotate(110 2886.1 300.8)" fill="rgb(17,124,17)"/>
<ellipse cx="2868.4" cy="326.3" rx="5.6" ry="2.2" transform="rotate(96 2868.4 326.3)" fill="rgb(19,134,19)"/>
<ellipse cx="2880.6" cy="308.5" rx="4.8" ry="2.3" transform="rotate(193 2880.6 308.5)" fill="rgb(16,113,16)"/>
<ellipse cx="2885.2" cy="301.0" rx="3.8" ry="1.9" transform="rotate(150 2885.2 301.0)" fill="rgb(15,105,15)"/>
<ellipse cx="2861.2" cy="333.5" rx="4.5" ry="2.8" transform="rotate(126 2861.2 333.5)" fill="rgb(24,173,24)"/>
<ellipse cx="2889.8" cy="307.2" rx="3.4" ry="2.4" transform="rotate(106 2889.8 307.2)" fill="rgb(23,162,23)"/>
<ellipse cx="2855.0" cy="339.7" rx="4.1" ry="1.9" transform="rotate(173 2855.0 339.7)" fill="rgb(13,92,13)"/>
<ellipse cx="2882.4" cy="281.8" rx="3.1" ry="2.9" transform="rotate(158 2882.4 281.8)" fill="rgb(7,55,7)"/>
<ellipse cx="2871.8" cy="277.5" rx="4.7" ry="2.0" transform="rotate(35 2871.8 277.5)" fill="rgb(27,189,27)"/>
<ellipse cx="2866.3" cy="337.6" rx="4.7" ry="2.0" transform="rotate(186 2866.3 337.6)" fill="rgb(14,100,14)"/>
<ellipse cx="2858.1" cy="331.8" rx="3.7" ry="2.9" transform="rotate(133 2858.1 331.8)" fill="rgb(19,139,19)"/>
<ellipse cx="2867.4" cy="313.5" rx="5.5" ry="2.0" transform="rotate(214 2867.4 313.5)" fill="rgb(24,173,24)"/>
<ellipse cx="2717.3" cy="221.4" rx="3.8" ry="2.2" transform="rotate(107 2717.3 221.4)" fill="rgb(6,42,6)"/>
<ellipse cx="2691.6" cy="268.8" rx="4.3" ry="2.6" transform="rotate(168 2691.6 268.8)" fill="rgb(26,186,26)"/>
<ellipse cx="2702.0" cy="305.9" rx="6.2" ry="2.6" transform="rotate(23 2702.0 305.9)" fill="rgb(15,105,15)"/>
<ellipse cx="2706.2" cy="267.9" rx="4.9" ry="1.9" transform="rotate(104 2706.2 267.9)" fill="rgb(20,143,20)"/>
<ellipse cx="2686.4" cy="301.0" rx="3.3" ry="2.1" transform="rotate(33 2686.4 301.0)" fill="rgb(26,188,26)"/>
<ellipse cx="2688.5" cy="271.4" rx="6.5" ry="1.8" transform="rotate(101 2688.5 271.4)" fill="rgb(29,203,29)"/>
<ellipse cx="2687.9" cy="282.0" rx="4.7" ry="2.0" transform="rotate(58 2687.9 282.0)" fill="rgb(29,209,29)"/>
<ellipse cx="2687.9" cy="275.0" rx="4.8" ry="2.8" transform="rotate(53 2687.9 275.0)" fill="rgb(20,141,20)"/>
<ellipse cx="2678.2" cy="298.1" rx="5.7" ry="2.0" transform="rotate(9 2678.2 298.1)" fill="rgb(12,85,12)"/>
<ellipse cx="2685.8" cy="288.0" rx="3.8" ry="2.4" transform="rotate(42 2685.8 288.0)" fill="rgb(26,186,26)"/>
<ellipse cx="2688.3" cy="267.5" rx="5.1" ry="2.7" transform="rotate(36 2688.3 267.5)" fill="rgb(8,62,8)"/>
<ellipse cx="2690.1" cy="268.6" rx="4.5" ry="2.3" transform="rotate(115 2690.1 268.6)" fill="rgb(19,138,19)"/>
<ellipse cx="2694.1" cy="271.7" rx="5.0" ry="2.5" transform="rotate(116 2694.1 271.7)" fill="rgb(29,205,29)"/>
<ellipse cx="2692.1" cy="264.8" rx="5.2" ry="2.4" transform="rotate(120 2692.1 264.8)" fill="rgb(15,108,15)"/>
<ellipse cx="2691.2" cy="272.6" rx="3.6" ry="2.1" transform="rotate(142 2691.2 272.6)" fill="rgb(27,191,27)"/>
<ellipse cx="2709.9" cy="306.5" rx="4.3" ry="2.1" transform="rotate(18 2709.9 306.5)" fill="rgb(17,123,17)"/>
<ellipse cx="2717.8" cy="313.6" rx="6.5" ry="2.0" transform="rotate(-30 2717.8 313.6)" fill="rgb(25,181,25)"/>
<ellipse cx="2701.8" cy="258.6" rx="4.4" ry="2.2" transform="rotate(193 2701.8 258.6)" fill="rgb(11,79,11)"/>
<ellipse cx="2690.4" cy="286.1" rx="5.7" ry="2.7" transform="rotate(116 2690.4 286.1)" fill="rgb(31,220,31)"/>
<ellipse cx="2689.8" cy="294.6" rx="4.3" ry="2.2" transform="rotate(156 2689.8 294.6)" fill="rgb(29,209,29)"/>
<ellipse cx="2710.5" cy="311.1" rx="5.3" ry="1.9" transform="rotate(-1 2710.5 311.1)" fill="rgb(17,122,17)"/>
<ellipse cx="2712.0" cy="296.9" rx="4.4" ry="2.8" transform="rotate(-12 2712.0 296.9)" fill="rgb(18,132,18)"/>
<ellipse cx="2686.1" cy="326.6" rx="3.6" ry="2.5" transform="rotate(22 2686.1 326.6)" fill="rgb(14,99,14)"/>
<ellipse cx="2667.9" cy="322.7" rx="6.5" ry="2.6" transform="rotate(16 2667.9 322.7)" fill="rgb(16,113,16)"/>
<ellipse cx="2744.7" cy="334.5" rx="5.4" ry="2.2" transform="rotate(-10 2744.7 334.5)" fill="rgb(8,59,8)"/>
<ellipse cx="2662.5" cy="325.2" rx="5.5" ry="2.1" transform="rotate(48 2662.5 325.2)" fill="rgb(25,181,25)"/>
<ellipse cx="2688.5" cy="336.6" rx="5.7" ry="2.7" transform="rotate(15 2688.5 336.6)" fill="rgb(14,100,14)"/>
<ellipse cx="2678.0" cy="326.9" rx="4.1" ry="2.7" transform="rotate(20 2678.0 326.9)" fill="rgb(25,175,25)"/>
<ellipse cx="2706.0" cy="331.9" rx="3.1" ry="2.0" transform="rotate(-5 2706.0 331.9)" fill="rgb(11,83,11)"/>
<ellipse cx="2676.7" cy="323.5" rx="5.5" ry="2.1" transform="rotate(32 2676.7 323.5)" fill="rgb(9,68,9)"/>
<ellipse cx="2726.0" cy="329.7" rx="4.0" ry="2.7" transform="rotate(-30 2726.0 329.7)" fill="rgb(11,78,11)"/>
<ellipse cx="2746.2" cy="331.2" rx="3.8" ry="1.8" transform="rotate(23 2746.2 331.2)" fill="rgb(14,98,14)"/>
<ellipse cx="2639.4" cy="318.7" rx="6.4" ry="2.2" transform="rotate(-33 2639.4 318.7)" fill="rgb(23,165,23)"/>
<ellipse cx="2658.0" cy="323.9" rx="6.0" ry="2.1" transform="rotate(-45 2658.0 323.9)" fill="rgb(26,186,26)"/>
<ellipse cx="2719.5" cy="333.4" rx="3.2" ry="2.3" transform="rotate(-19 2719.5 333.4)" fill="rgb(15,105,15)"/>
<ellipse cx="2677.6" cy="329.6" rx="3.6" ry="2.6" transform="rotate(43 2677.6 329.6)" fill="rgb(16,117,16)"/>
<ellipse cx="2671.7" cy="328.6" rx="3.5" ry="2.5" transform="rotate(-6 2671.7 328.6)" fill="rgb(15,109,15)"/>
<ellipse cx="2719.2" cy="335.4" rx="3.2" ry="2.3" transform="rotate(8 2719.2 335.4)" fill="rgb(14,101,14)"/>
<ellipse cx="2625.8" cy="352.1" rx="4.1" ry="2.1" transform="rotate(36 2625.8 352.1)" fill="rgb(13,95,13)"/>
<ellipse cx="2902.2" cy="342.9" rx="3.7" ry="2.4" transform="rotate(-12 2902.2 342.9)" fill="rgb(16,118,16)"/>
<ellipse cx="2814.7" cy="346.7" rx="6.3" ry="2.7" transform="rotate(-43 2814.7 346.7)" fill="rgb(15,107,15)"/>
<ellipse cx="2742.6" cy="348.8" rx="6.1" ry="2.3" transform="rotate(14 2742.6 348.8)" fill="rgb(19,137,19)"/>
<ellipse cx="2909.2" cy="345.4" rx="4.1" ry="2.2" transform="rotate(22 2909.2 345.4)" fill="rgb(14,99,14)"/>
<ellipse cx="2674.3" cy="352.6" rx="3.0" ry="2.5" transform="rotate(59 2674.3 352.6)" fill="rgb(9,67,9)"/>
<ellipse cx="2740.3" cy="354.5" rx="4.9" ry="2.5" transform="rotate(-71 2740.3 354.5)" fill="rgb(16,116,16)"/>
<ellipse cx="2924.8" cy="343.6" rx="4.1" ry="2.7" transform="rotate(31 2924.8 343.6)" fill="rgb(20,144,20)"/>
<ellipse cx="2835.0" cy="338.3" rx="3.6" ry="2.5" transform="rotate(-55 2835.0 338.3)" fill="rgb(19,136,19)"/>
<ellipse cx="2732.4" cy="350.1" rx="3.8" ry="2.1" transform="rotate(63 2732.4 350.1)" fill="rgb(14,102,14)"/>
<ellipse cx="2719.3" cy="354.8" rx="3.2" ry="1.9" transform="rotate(48 2719.3 354.8)" fill="rgb(7,54,7)"/>
<ellipse cx="2651.5" cy="347.1" rx="3.6" ry="2.8" transform="rotate(20 2651.5 347.1)" fill="rgb(13,96,13)"/>
<ellipse cx="2896.8" cy="345.8" rx="5.8" ry="2.3" transform="rotate(-6 2896.8 345.8)" fill="rgb(14,99,14)"/>
<ellipse cx="2842.3" cy="343.7" rx="5.9" ry="2.8" transform="rotate(31 2842.3 343.7)" fill="rgb(18,129,18)"/>
<ellipse cx="2792.3" cy="351.0" rx="5.9" ry="2.8" transform="rotate(23 2792.3 351.0)" fill="rgb(16,113,16)"/>
<ellipse cx="2831.6" cy="346.4" rx="5.0" ry="2.9" transform="rotate(20 2831.6 346.4)" fill="rgb(5,41,5)"/>
<ellipse cx="2930.4" cy="348.4" rx="5.2" ry="2.3" transform="rotate(109 2930.4 348.4)" fill="rgb(12,89,12)"/>
<ellipse cx="2624.2" cy="351.7" rx="4.0" ry="2.7" transform="rotate(-19 2624.2 351.7)" fill="rgb(6,45,6)"/>
<ellipse cx="2936.9" cy="346.8" rx="4.9" ry="2.4" transform="rotate(-24 2936.9 346.8)" fill="rgb(6,43,6)"/>
<ellipse cx="2874.0" cy="346.3" rx="5.2" ry="2.7" transform="rotate(-27 2874.0 346.3)" fill="rgb(12,86,12)"/>
<ellipse cx="2927.3" cy="348.0" rx="5.8" ry="2.0" transform="rotate(8 2927.3 348.0)" fill="rgb(14,104,14)"/>
<ellipse cx="2916.7" cy="345.0" rx="4.1" ry="1.8" transform="rotate(46 2916.7 345.0)" fill="rgb(7,54,7)"/>
<ellipse cx="2798.6" cy="352.1" rx="3.8" ry="2.4" transform="rotate(-25 2798.6 352.1)" fill="rgb(10,72,10)"/>
<ellipse cx="2630.4" cy="357.8" rx="3.3" ry="2.0" transform="rotate(33 2630.4 357.8)" fill="rgb(10,76,10)"/>
<ellipse cx="2771.2" cy="350.2" rx="4.7" ry="2.3" transform="rotate(12 2771.2 350.2)" fill="rgb(20,141,20)"/>
<ellipse cx="2627.9" cy="347.8" rx="4.0" ry="2.9" transform="rotate(-18 2627.9 347.8)" fill="rgb(16,113,16)"/>
<ellipse cx="2637.3" cy="412.5" rx="5.5" ry="2.0" transform="rotate(92 2637.3 412.5)" fill="rgb(27,193,27)"/>
<ellipse cx="2614.2" cy="376.3" rx="4.1" ry="2.4" transform="rotate(73 2614.2 376.3)" fill="rgb(25,180,25)"/>
<ellipse cx="2612.2" cy="375.9" rx="4.8" ry="2.8" transform="rotate(73 2612.2 375.9)" fill="rgb(8,58,8)"/>
<ellipse cx="2618.3" cy="389.4" rx="6.5" ry="1.9" transform="rotate(-14 2618.3 389.4)" fill="rgb(26,182,26)"/>
<ellipse cx="2632.1" cy="420.0" rx="6.2" ry="1.8" transform="rotate(43 2632.1 420.0)" fill="rgb(13,97,13)"/>
<ellipse cx="2621.7" cy="384.1" rx="4.3" ry="2.6" transform="rotate(99 2621.7 384.1)" fill="rgb(27,189,27)"/>
<ellipse cx="2620.4" cy="391.8" rx="3.3" ry="2.2" transform="rotate(54 2620.4 391.8)" fill="rgb(15,109,15)"/>
<ellipse cx="2629.4" cy="401.6" rx="3.4" ry="2.0" transform="rotate(51 2629.4 401.6)" fill="rgb(12,85,12)"/>
<ellipse cx="2621.1" cy="385.4" rx="4.4" ry="2.2" transform="rotate(-39 2621.1 385.4)" fill="rgb(19,139,19)"/>
<ellipse cx="2615.0" cy="380.0" rx="3.4" ry="3.0" transform="rotate(32 2615.0 380.0)" fill="rgb(25,180,25)"/>
<ellipse cx="2626.1" cy="388.6" rx="5.5" ry="2.0" transform="rotate(47 2626.1 388.6)" fill="rgb(17,123,17)"/>
<ellipse cx="2640.3" cy="416.3" rx="6.5" ry="2.0" transform="rotate(91 2640.3 416.3)" fill="rgb(16,115,16)"/>
<ellipse cx="2626.0" cy="403.0" rx="5.2" ry="2.9" transform="rotate(103 2626.0 403.0)" fill="rgb(13,91,13)"/>
<ellipse cx="2623.0" cy="391.5" rx="5.4" ry="2.3" transform="rotate(60 2623.0 391.5)" fill="rgb(27,194,27)"/>
<ellipse cx="2627.2" cy="403.1" rx="5.1" ry="2.5" transform="rotate(58 2627.2 403.1)" fill="rgb(13,94,13)"/>
<ellipse cx="2628.9" cy="395.8" rx="6.3" ry="2.0" transform="rotate(86 2628.9 395.8)" fill="rgb(22,154,22)"/>
<ellipse cx="2652.6" cy="388.1" rx="5.6" ry="3.0" transform="rotate(-46 2652.6 388.1)" fill="rgb(12,87,12)"/>
<ellipse cx="2644.9" cy="388.2" rx="5.9" ry="2.6" transform="rotate(16 2644.9 388.2)" fill="rgb(10,76,10)"/>
<ellipse cx="2660.5" cy="388.4" rx="6.5" ry="1.9" transform="rotate(62 2660.5 388.4)" fill="rgb(16,113,16)"/>
<ellipse cx="2702.7" cy="369.3" rx="6.0" ry="2.0" transform="rotate(103 2702.7 369.3)" fill="rgb(19,135,19)"/>
<ellipse cx="2703.1" cy="368.9" rx="5.8" ry="2.4" transform="rotate(148 2703.1 368.9)" fill="rgb(19,138,19)"/>
<ellipse cx="2683.5" cy="419.0" rx="5.8" ry="2.0" transform="rotate(56 2683.5 419.0)" fill="rgb(27,192,27)"/>
<ellipse cx="2698.1" cy="375.6" rx="6.0" ry="2.8" transform="rotate(134 2698.1 375.6)" fill="rgb(15,106,15)"/>
<ellipse cx="2697.8" cy="379.5" rx="3.3" ry="3.0" transform="rotate(70 2697.8 379.5)" fill="rgb(27,191,27)"/>
<ellipse cx="2705.4" cy="361.2" rx="3.7" ry="2.6" transform="rotate(138 2705.4 361.2)" fill="rgb(23,164,23)"/>
<ellipse cx="2699.3" cy="371.5" rx="5.1" ry="2.6" transform="rotate(196 2699.3 371.5)" fill="rgb(13,95,13)"/>
<ellipse cx="2714.9" cy="367.5" rx="3.5" ry="1.9" transform="rotate(195 2714.9 367.5)" fill="rgb(17,124,17)"/>
<ellipse cx="2696.3" cy="377.6" rx="5.6" ry="2.2" transform="rotate(238 2696.3 377.6)" fill="rgb(22,159,22)"/>
<ellipse cx="2700.0" cy="372.5" rx="4.5" ry="2.8" transform="rotate(107 2700.0 372.5)" fill="rgb(21,150,21)"/>
<ellipse cx="2693.3" cy="390.0" rx="3.8" ry="2.5" transform="rotate(102 2693.3 390.0)" fill="rgb(23,161,23)"/>
<ellipse cx="2705.1" cy="368.4" rx="5.4" ry="2.3" transform="rotate(180 2705.1 368.4)" fill="rgb(26,184,26)"/>
<ellipse cx="2680.2" cy="405.5" rx="4.5" ry="2.1" transform="rotate(89 2680.2 405.5)" fill="rgb(8,62,8)"/>
<ellipse cx="2696.7" cy="381.0" rx="5.4" ry="2.1" transform="rotate(97 2696.7 381.0)" fill="rgb(22,159,22)"/>
<ellipse cx="2677.8" cy="422.2" rx="5.9" ry="2.8" transform="rotate(148 2677.8 422.2)" fill="rgb(15,105,15)"/>
<ellipse cx="2686.6" cy="394.4" rx="3.3" ry="2.2" transform="rotate(70 2686.6 394.4)" fill="rgb(27,190,27)"/>
<ellipse cx="2688.0" cy="398.1" rx="3.1" ry="2.6" transform="rotate(186 2688.0 398.1)" fill="rgb(28,199,28)"/>
<ellipse cx="2690.9" cy="386.7" rx="5.3" ry="2.5" transform="rotate(223 2690.9 386.7)" fill="rgb(14,101,14)"/>
<ellipse cx="2672.7" cy="426.9" rx="5.5" ry="3.0" transform="rotate(152 2672.7 426.9)" fill="rgb(21,152,21)"/>
<ellipse cx="2717.8" cy="358.5" rx="3.8" ry="3.0" transform="rotate(154 2717.8 358.5)" fill="rgb(21,153,21)"/>
<ellipse cx="2717.5" cy="358.2" rx="3.6" ry="2.6" transform="rotate(184 2717.5 358.2)" fill="rgb(9,65,9)"/>
<ellipse cx="2686.4" cy="395.3" rx="5.6" ry="2.7" transform="rotate(148 2686.4 395.3)" fill="rgb(25,177,25)"/>
<ellipse cx="2727.1" cy="359.5" rx="3.1" ry="2.2" transform="rotate(70 2727.1 359.5)" fill="rgb(27,190,27)"/>
<ellipse cx="2867.8" cy="396.7" rx="4.1" ry="2.4" transform="rotate(153 2867.8 396.7)" fill="rgb(24,174,24)"/>
<ellipse cx="2894.4" cy="365.8" rx="5.7" ry="2.1" transform="rotate(136 2894.4 365.8)" fill="rgb(14,98,14)"/>
<ellipse cx="2878.2" cy="387.4" rx="5.0" ry="2.4" transform="rotate(136 2878.2 387.4)" fill="rgb(17,122,17)"/>
<ellipse cx="2854.3" cy="431.1" rx="4.4" ry="2.5" transform="rotate(199 2854.3 431.1)" fill="rgb(19,133,19)"/>
<ellipse cx="2858.7" cy="426.3" rx="3.5" ry="2.8" transform="rotate(105 2858.7 426.3)" fill="rgb(7,54,7)"/>
<ellipse cx="2884.7" cy="364.0" rx="4.1" ry="3.0" transform="rotate(109 2884.7 364.0)" fill="rgb(9,69,9)"/>
<ellipse cx="2865.2" cy="406.0" rx="3.3" ry="2.1" transform="rotate(185 2865.2 406.0)" fill="rgb(16,116,16)"/>
<ellipse cx="2885.9" cy="374.4" rx="6.3" ry="2.5" transform="rotate(129 2885.9 374.4)" fill="rgb(27,189,27)"/>
<ellipse cx="2873.9" cy="391.9" rx="5.6" ry="2.1" transform="rotate(87 2873.9 391.9)" fill="rgb(14,98,14)"/>
<ellipse cx="2874.9" cy="389.4" rx="3.2" ry="2.8" transform="rotate(158 2874.9 389.4)" fill="rgb(17,122,17)"/>
<ellipse cx="2889.4" cy="355.1" rx="3.8" ry="1.9" transform="rotate(87 2889.4 355.1)" fill="rgb(16,114,16)"/>
<ellipse cx="2874.0" cy="393.1" rx="3.0" ry="2.3" transform="rotate(182 2874.0 393.1)" fill="rgb(18,127,18)"/>
<ellipse cx="2856.0" cy="437.0" rx="4.3" ry="2.5" transform="rotate(88 2856.0 437.0)" fill="rgb(28,200,28)"/>
<ellipse cx="2868.3" cy="401.2" rx="4.8" ry="2.7" transform="rotate(98 2868.3 401.2)" fill="rgb(18,129,18)"/>
<ellipse cx="2896.3" cy="356.5" rx="5.8" ry="2.3" transform="rotate(137 2896.3 356.5)" fill="rgb(13,94,13)"/>
<ellipse cx="2880.7" cy="375.3" rx="5.9" ry="2.2" transform="rotate(110 2880.7 375.3)" fill="rgb(29,204,29)"/>
<ellipse cx="2884.1" cy="373.0" rx="3.2" ry="2.7" transform="rotate(178 2884.1 373.0)" fill="rgb(21,151,21)"/>
<ellipse cx="2870.2" cy="403.1" rx="6.3" ry="2.7" transform="rotate(91 2870.2 403.1)" fill="rgb(8,56,8)"/>
<ellipse cx="2873.2" cy="401.3" rx="5.4" ry="3.0" transform="rotate(130 2873.2 401.3)" fill="rgb(16,117,16)"/>
<ellipse cx="2857.6" cy="414.0" rx="4.6" ry="2.3" transform="rotate(140 2857.6 414.0)" fill="rgb(15,110,15)"/>
<ellipse cx="2889.2" cy="366.3" rx="3.4" ry="2.8" transform="rotate(85 2889.2 366.3)" fill="rgb(9,63,9)"/>
<ellipse cx="2888.0" cy="362.9" rx="5.0" ry="2.9" transform="rotate(134 2888.0 362.9)" fill="rgb(28,199,28)"/>
<ellipse cx="2884.0" cy="372.0" rx="3.4" ry="2.8" transform="rotate(115 2884.0 372.0)" fill="rgb(26,182,26)"/>
<ellipse cx="2875.0" cy="384.3" rx="4.7" ry="2.6" transform="rotate(167 2875.0 384.3)" fill="rgb(27,195,27)"/>
<ellipse cx="2877.7" cy="382.8" rx="3.6" ry="2.5" transform="rotate(136 2877.7 382.8)" fill="rgb(23,167,23)"/>
<ellipse cx="2893.1" cy="362.8" rx="4.4" ry="2.5" transform="rotate(154 2893.1 362.8)" fill="rgb(18,132,18)"/>
<ellipse cx="2853.0" cy="428.7" rx="6.4" ry="2.2" transform="rotate(102 2853.0 428.7)" fill="rgb(18,126,18)"/>
<ellipse cx="2882.4" cy="373.3" rx="3.2" ry="2.8" transform="rotate(73 2882.4 373.3)" fill="rgb(13,92,13)"/>
<ellipse cx="2652.2" cy="486.9" rx="5.0" ry="3.0" transform="rotate(65 2652.2 486.9)" fill="rgb(21,147,21)"/>
<ellipse cx="2660.6" cy="502.6" rx="4.1" ry="2.8" transform="rotate(108 2660.6 502.6)" fill="rgb(9,68,9)"/>
<ellipse cx="2613.4" cy="465.7" rx="4.2" ry="2.0" transform="rotate(92 2613.4 465.7)" fill="rgb(19,137,19)"/>
<ellipse cx="2691.9" cy="535.0" rx="3.7" ry="2.4" transform="rotate(74 2691.9 535.0)" fill="rgb(12,86,12)"/>
<ellipse cx="2683.1" cy="518.6" rx="6.1" ry="2.9" transform="rotate(27 2683.1 518.6)" fill="rgb(20,142,20)"/>
<ellipse cx="2704.7" cy="535.6" rx="5.5" ry="2.1" transform="rotate(1 2704.7 535.6)" fill="rgb(26,184,26)"/>
<ellipse cx="2646.8" cy="486.6" rx="4.0" ry="2.1" transform="rotate(59 2646.8 486.6)" fill="rgb(13,91,13)"/>
<ellipse cx="2647.0" cy="485.9" rx="6.1" ry="2.0" transform="rotate(59 2647.0 485.9)" fill="rgb(18,131,18)"/>
<ellipse cx="2705.6" cy="523.7" rx="5.6" ry="2.4" transform="rotate(-13 2705.6 523.7)" fill="rgb(19,136,19)"/>
<ellipse cx="2680.5" cy="524.2" rx="4.3" ry="2.7" transform="rotate(47 2680.5 524.2)" fill="rgb(28,197,28)"/>
<ellipse cx="2632.1" cy="486.4" rx="6.3" ry="2.4" transform="rotate(-5 2632.1 486.4)" fill="rgb(23,165,23)"/>
<ellipse cx="2635.3" cy="487.4" rx="5.3" ry="1.9" transform="rotate(22 2635.3 487.4)" fill="rgb(28,197,28)"/>
<ellipse cx="2711.1" cy="537.8" rx="6.5" ry="2.2" transform="rotate(44 2711.1 537.8)" fill="rgb(10,71,10)"/>
<ellipse cx="2679.4" cy="517.6" rx="6.4" ry="2.6" transform="rotate(45 2679.4 517.6)" fill="rgb(20,140,20)"/>
<ellipse cx="2701.7" cy="522.8" rx="4.8" ry="2.0" transform="rotate(-2 2701.7 522.8)" fill="rgb(9,64,9)"/>
<ellipse cx="2664.4" cy="505.4" rx="4.7" ry="1.9" transform="rotate(100 2664.4 505.4)" fill="rgb(16,117,16)"/>
<ellipse cx="2649.2" cy="495.7" rx="3.5" ry="2.2" transform="rotate(9 2649.2 495.7)" fill="rgb(19,139,19)"/>
<ellipse cx="2716.7" cy="550.2" rx="6.0" ry="2.9" transform="rotate(19 2716.7 550.2)" fill="rgb(27,195,27)"/>
<ellipse cx="2606.2" cy="472.7" rx="5.1" ry="2.5" transform="rotate(43 2606.2 472.7)" fill="rgb(22,158,22)"/>
<ellipse cx="2666.2" cy="505.6" rx="6.0" ry="2.9" transform="rotate(39 2666.2 505.6)" fill="rgb(10,70,10)"/>
<ellipse cx="2625.7" cy="474.7" rx="4.8" ry="2.5" transform="rotate(31 2625.7 474.7)" fill="rgb(22,158,22)"/>
<ellipse cx="2601.2" cy="480.8" rx="5.9" ry="2.3" transform="rotate(57 2601.2 480.8)" fill="rgb(29,203,29)"/>
<ellipse cx="2648.3" cy="491.5" rx="3.9" ry="2.5" transform="rotate(-7 2648.3 491.5)" fill="rgb(24,171,24)"/>
<ellipse cx="2680.8" cy="512.8" rx="3.6" ry="2.0" transform="rotate(49 2680.8 512.8)" fill="rgb(26,188,26)"/>
<ellipse cx="2629.4" cy="487.2" rx="3.8" ry="2.6" transform="rotate(24 2629.4 487.2)" fill="rgb(14,104,14)"/>
<ellipse cx="2647.3" cy="488.7" rx="4.1" ry="2.2" transform="rotate(10 2647.3 488.7)" fill="rgb(12,88,12)"/>
<ellipse cx="2681.9" cy="511.5" rx="3.3" ry="2.7" transform="rotate(35 2681.9 511.5)" fill="rgb(19,135,19)"/>
<ellipse cx="2661.7" cy="501.2" rx="6.2" ry="3.0" transform="rotate(39 2661.7 501.2)" fill="rgb(15,107,15)"/>
<ellipse cx="2661.5" cy="501.7" rx="4.2" ry="2.7" transform="rotate(4 2661.5 501.7)" fill="rgb(24,173,24)"/>
<ellipse cx="2677.5" cy="509.9" rx="3.0" ry="2.4" transform="rotate(-3 2677.5 509.9)" fill="rgb(25,178,25)"/>
<ellipse cx="2666.0" cy="498.6" rx="3.7" ry="2.9" transform="rotate(117 2666.0 498.6)" fill="rgb(10,74,10)"/>
<ellipse cx="2646.2" cy="494.1" rx="6.3" ry="2.0" transform="rotate(18 2646.2 494.1)" fill="rgb(23,162,23)"/>
<ellipse cx="2621.5" cy="467.8" rx="6.3" ry="2.3" transform="rotate(14 2621.5 467.8)" fill="rgb(23,164,23)"/>
<ellipse cx="2644.2" cy="489.1" rx="4.2" ry="1.9" transform="rotate(22 2644.2 489.1)" fill="rgb(11,81,11)"/>
<ellipse cx="2647.0" cy="491.8" rx="4.9" ry="2.5" transform="rotate(31 2647.0 491.8)" fill="rgb(19,133,19)"/>
<ellipse cx="2702.2" cy="540.0" rx="4.1" ry="2.7" transform="rotate(48 2702.2 540.0)" fill="rgb(9,64,9)"/>
<ellipse cx="2703.6" cy="534.6" rx="5.0" ry="2.2" transform="rotate(62 2703.6 534.6)" fill="rgb(14,103,14)"/>
<ellipse cx="2646.2" cy="489.9" rx="3.7" ry="2.9" transform="rotate(-5 2646.2 489.9)" fill="rgb(17,124,17)"/>
<ellipse cx="2722.8" cy="540.0" rx="3.2" ry="2.0" transform="rotate(64 2722.8 540.0)" fill="rgb(16,114,16)"/>
<ellipse cx="2937.6" cy="472.1" rx="4.7" ry="2.6" transform="rotate(112 2937.6 472.1)" fill="rgb(16,115,16)"/>
<ellipse cx="2925.8" cy="488.2" rx="3.1" ry="2.1" transform="rotate(80 2925.8 488.2)" fill="rgb(9,65,9)"/>
<ellipse cx="2922.7" cy="485.6" rx="6.1" ry="2.5" transform="rotate(84 2922.7 485.6)" fill="rgb(10,70,10)"/>
<ellipse cx="2922.4" cy="483.0" rx="6.2" ry="2.1" transform="rotate(180 2922.4 483.0)" fill="rgb(9,68,9)"/>
<ellipse cx="2927.9" cy="520.0" rx="4.0" ry="2.0" transform="rotate(111 2927.9 520.0)" fill="rgb(19,134,19)"/>
<ellipse cx="2927.4" cy="511.4" rx="6.3" ry="2.1" transform="rotate(120 2927.4 511.4)" fill="rgb(7,50,7)"/>
<ellipse cx="2931.9" cy="474.7" rx="4.8" ry="2.3" transform="rotate(91 2931.9 474.7)" fill="rgb(18,128,18)"/>
<ellipse cx="2844.6" cy="470.2" rx="5.2" ry="2.4" transform="rotate(76 2844.6 470.2)" fill="rgb(12,88,12)"/>
<ellipse cx="2892.9" cy="487.2" rx="4.5" ry="1.9" transform="rotate(-45 2892.9 487.2)" fill="rgb(8,59,8)"/>
<ellipse cx="2915.3" cy="531.1" rx="3.9" ry="2.9" transform="rotate(-5 2915.3 531.1)" fill="rgb(15,109,15)"/>
<ellipse cx="2894.2" cy="511.0" rx="4.0" ry="2.8" transform="rotate(21 2894.2 511.0)" fill="rgb(11,79,11)"/>
<ellipse cx="2887.7" cy="504.1" rx="5.9" ry="2.8" transform="rotate(125 2887.7 504.1)" fill="rgb(7,53,7)"/>
<ellipse cx="2902.7" cy="514.3" rx="5.8" ry="2.0" transform="rotate(-23 2902.7 514.3)" fill="rgb(15,110,15)"/>
<ellipse cx="2913.5" cy="523.8" rx="3.1" ry="2.4" transform="rotate(-2 2913.5 523.8)" fill="rgb(17,121,17)"/>
<ellipse cx="2909.2" cy="520.4" rx="3.2" ry="2.6" transform="rotate(-12 2909.2 520.4)" fill="rgb(13,95,13)"/>
<ellipse cx="2872.8" cy="475.0" rx="3.7" ry="2.6" transform="rotate(42 2872.8 475.0)" fill="rgb(8,62,8)"/>
<ellipse cx="2879.6" cy="515.3" rx="6.0" ry="2.7" transform="rotate(82 2879.6 515.3)" fill="rgb(5,38,5)"/>
<ellipse cx="2827.3" cy="469.3" rx="5.2" ry="2.4" transform="rotate(-42 2827.3 469.3)" fill="rgb(18,130,18)"/>
<ellipse cx="2745.5" cy="475.1" rx="5.3" ry="2.7" transform="rotate(69 2745.5 475.1)" fill="rgb(8,58,8)"/>
<ellipse cx="2809.0" cy="476.0" rx="3.7" ry="2.6" transform="rotate(-52 2809.0 476.0)" fill="rgb(8,62,8)"/>
<ellipse cx="2764.0" cy="485.7" rx="6.3" ry="2.5" transform="rotate(-29 2764.0 485.7)" fill="rgb(9,64,9)"/>
<ellipse cx="2841.8" cy="464.6" rx="4.8" ry="2.4" transform="rotate(62 2841.8 464.6)" fill="rgb(9,63,9)"/>
<ellipse cx="2798.9" cy="471.3" rx="3.7" ry="2.5" transform="rotate(20 2798.9 471.3)" fill="rgb(8,60,8)"/>
<ellipse cx="2764.7" cy="475.9" rx="4.2" ry="2.4" transform="rotate(63 2764.7 475.9)" fill="rgb(5,40,5)"/>
<ellipse cx="2781.6" cy="474.3" rx="6.4" ry="1.9" transform="rotate(25 2781.6 474.3)" fill="rgb(11,82,11)"/>
<ellipse cx="2927.4" cy="237.7" rx="5.2" ry="2.9" transform="rotate(70 2927.4 237.7)" fill="rgb(13,95,13)"/>
<ellipse cx="2933.1" cy="258.8" rx="5.7" ry="1.9" transform="rotate(82 2933.1 258.8)" fill="rgb(8,56,8)"/>
<ellipse cx="2910.8" cy="227.6" rx="5.5" ry="2.2" transform="rotate(52 2910.8 227.6)" fill="rgb(16,113,16)"/>
<ellipse cx="2929.8" cy="260.9" rx="4.7" ry="2.9" transform="rotate(94 2929.8 260.9)" fill="rgb(6,47,6)"/>
<ellipse cx="2937.0" cy="454.0" rx="5.1" ry="2.5" transform="rotate(118 2937.0 454.0)" fill="rgb(15,93,15)"/>
<ellipse cx="2923.0" cy="495.0" rx="4.9" ry="2.6" transform="rotate(108 2923.0 495.0)" fill="rgb(21,129,21)"/>
<ellipse cx="2934.0" cy="526.0" rx="5.1" ry="3.2" transform="rotate(103 2934.0 526.0)" fill="rgb(20,121,20)"/>
<ellipse cx="2880.0" cy="480.0" rx="5.4" ry="3.1" transform="rotate(11 2880.0 480.0)" fill="rgb(17,105,17)"/>
<ellipse cx="2900.0" cy="510.0" rx="5.4" ry="2.6" transform="rotate(14 2900.0 510.0)" fill="rgb(15,95,15)"/>
<ellipse cx="2860.0" cy="470.0" rx="4.9" ry="2.5" transform="rotate(18 2860.0 470.0)" fill="rgb(21,126,21)"/>
<ellipse cx="2910.0" cy="470.0" rx="5.5" ry="3.1" transform="rotate(53 2910.0 470.0)" fill="rgb(19,115,19)"/>
<ellipse cx="2890.0" cy="530.0" rx="5.7" ry="3.0" transform="rotate(150 2890.0 530.0)" fill="rgb(17,105,17)"/>
<ellipse cx="2746.0" cy="176.0" rx="5.8" ry="4.8" transform="rotate(30 2746.0 176.0)" fill="rgb(42,255,42)"/>
<ellipse cx="2700.0" cy="255.0" rx="5.8" ry="3.8" transform="rotate(130 2700.0 255.0)" fill="rgb(36,221,36)"/>
<ellipse cx="2694.0" cy="275.0" rx="6.0" ry="4.0" transform="rotate(49 2694.0 275.0)" fill="rgb(39,236,39)"/>
<ellipse cx="2684.0" cy="291.0" rx="5.1" ry="3.6" transform="rotate(68 2684.0 291.0)" fill="rgb(36,216,36)"/>
<ellipse cx="2713.0" cy="312.5" rx="5.5" ry="4.4" transform="rotate(52 2713.0 312.5)" fill="rgb(38,228,38)"/>
<ellipse cx="2667.0" cy="304.0" rx="6.1" ry="3.8" transform="rotate(5 2667.0 304.0)" fill="rgb(38,228,38)"/>
<ellipse cx="2690.0" cy="330.0" rx="7.2" ry="4.3" transform="rotate(22 2690.0 330.0)" fill="rgb(37,226,37)"/>
<ellipse cx="2720.0" cy="333.0" rx="6.8" ry="4.3" transform="rotate(140 2720.0 333.0)" fill="rgb(38,229,38)"/>
<ellipse cx="2759.0" cy="327.0" rx="6.6" ry="4.4" transform="rotate(129 2759.0 327.0)" fill="rgb(38,229,38)"/>
<ellipse cx="2877.0" cy="163.0" rx="7.0" ry="4.0" transform="rotate(171 2877.0 163.0)" fill="rgb(41,251,41)"/>
<ellipse cx="2854.0" cy="173.0" rx="6.9" ry="3.9" transform="rotate(154 2854.0 173.0)" fill="rgb(34,204,34)"/>
<ellipse cx="2883.0" cy="176.0" rx="6.6" ry="4.4" transform="rotate(111 2883.0 176.0)" fill="rgb(39,238,39)"/>
<ellipse cx="2857.0" cy="209.0" rx="6.6" ry="3.8" transform="rotate(21 2857.0 209.0)" fill="rgb(35,213,35)"/>
<ellipse cx="2880.0" cy="211.0" rx="6.5" ry="4.4" transform="rotate(144 2880.0 211.0)" fill="rgb(39,234,39)"/>
<ellipse cx="2860.0" cy="222.0" rx="6.0" ry="4.6" transform="rotate(88 2860.0 222.0)" fill="rgb(40,245,40)"/>
<ellipse cx="2890.0" cy="220.6" rx="6.1" ry="3.6" transform="rotate(97 2890.0 220.6)" fill="rgb(41,249,41)"/>
<ellipse cx="2913.0" cy="160.0" rx="7.2" ry="3.9" transform="rotate(50 2913.0 160.0)" fill="rgb(35,214,35)"/>
<ellipse cx="2900.0" cy="199.0" rx="7.3" ry="3.6" transform="rotate(149 2900.0 199.0)" fill="rgb(41,247,41)"/>
<ellipse cx="2936.0" cy="202.5" rx="7.1" ry="4.6" transform="rotate(100 2936.0 202.5)" fill="rgb(33,203,33)"/>
<ellipse cx="2847.0" cy="284.6" rx="6.5" ry="4.4" transform="rotate(86 2847.0 284.6)" fill="rgb(34,204,34)"/>
<ellipse cx="2821.0" cy="307.6" rx="5.9" ry="4.1" transform="rotate(65 2821.0 307.6)" fill="rgb(41,247,41)"/>
<ellipse cx="2795.0" cy="321.0" rx="6.7" ry="4.0" transform="rotate(40 2795.0 321.0)" fill="rgb(40,245,40)"/>
<ellipse cx="2808.0" cy="288.0" rx="5.3" ry="4.5" transform="rotate(83 2808.0 288.0)" fill="rgb(33,201,33)"/>
<ellipse cx="2864.0" cy="275.0" rx="6.8" ry="4.7" transform="rotate(70 2864.0 275.0)" fill="rgb(41,251,41)"/>
<ellipse cx="2890.0" cy="288.0" rx="6.4" ry="4.2" transform="rotate(126 2890.0 288.0)" fill="rgb(41,248,41)"/>
<ellipse cx="2883.0" cy="301.0" rx="5.4" ry="4.3" transform="rotate(126 2883.0 301.0)" fill="rgb(36,220,36)"/>
<ellipse cx="2857.0" cy="327.0" rx="6.2" ry="4.7" transform="rotate(107 2857.0 327.0)" fill="rgb(40,242,40)"/>
<ellipse cx="2850.0" cy="339.0" rx="5.4" ry="4.3" transform="rotate(117 2850.0 339.0)" fill="rgb(40,243,40)"/>
<ellipse cx="2842.0" cy="250.0" rx="6.3" ry="4.8" transform="rotate(145 2842.0 250.0)" fill="rgb(38,229,38)"/>
<ellipse cx="2870.0" cy="250.0" rx="7.4" ry="4.0" transform="rotate(13 2870.0 250.0)" fill="rgb(33,201,33)"/>
<ellipse cx="2610.0" cy="371.0" rx="5.0" ry="4.2" transform="rotate(43 2610.0 371.0)" fill="rgb(34,204,34)"/>
<ellipse cx="2618.0" cy="380.0" rx="5.9" ry="3.8" transform="rotate(180 2618.0 380.0)" fill="rgb(40,244,40)"/>
<ellipse cx="2626.0" cy="392.0" rx="5.4" ry="4.3" transform="rotate(131 2626.0 392.0)" fill="rgb(36,217,36)"/>
<ellipse cx="2636.0" cy="419.0" rx="6.3" ry="4.0" transform="rotate(103 2636.0 419.0)" fill="rgb(33,201,33)"/>
<ellipse cx="2650.0" cy="390.0" rx="7.0" ry="4.3" transform="rotate(156 2650.0 390.0)" fill="rgb(34,209,34)"/>
<ellipse cx="2726.0" cy="354.0" rx="5.5" ry="3.5" transform="rotate(21 2726.0 354.0)" fill="rgb(35,215,35)"/>
<ellipse cx="2710.0" cy="362.0" rx="7.0" ry="4.5" transform="rotate(67 2710.0 362.0)" fill="rgb(40,240,40)"/>
<ellipse cx="2698.0" cy="374.5" rx="6.2" ry="4.4" transform="rotate(7 2698.0 374.5)" fill="rgb(33,201,33)"/>
<ellipse cx="2690.0" cy="390.0" rx="7.0" ry="4.6" transform="rotate(54 2690.0 390.0)" fill="rgb(40,242,40)"/>
<ellipse cx="2681.0" cy="409.0" rx="6.8" ry="4.4" transform="rotate(86 2681.0 409.0)" fill="rgb(39,239,39)"/>
<ellipse cx="2674.0" cy="430.0" rx="7.2" ry="3.8" transform="rotate(121 2674.0 430.0)" fill="rgb(41,251,41)"/>
<ellipse cx="2632.6" cy="502.0" rx="5.8" ry="4.1" transform="rotate(145 2632.6 502.0)" fill="rgb(40,244,40)"/>
<ellipse cx="2657.0" cy="495.0" rx="6.5" ry="4.8" transform="rotate(57 2657.0 495.0)" fill="rgb(36,218,36)"/>
<ellipse cx="2684.0" cy="519.5" rx="5.6" ry="4.3" transform="rotate(38 2684.0 519.5)" fill="rgb(39,235,39)"/>
<ellipse cx="2702.0" cy="516.0" rx="7.4" ry="3.9" transform="rotate(112 2702.0 516.0)" fill="rgb(40,241,40)"/>
<ellipse cx="2705.0" cy="533.0" rx="5.4" ry="3.7" transform="rotate(151 2705.0 533.0)" fill="rgb(37,227,37)"/>
<ellipse cx="2620.0" cy="520.0" rx="6.9" ry="4.1" transform="rotate(154 2620.0 520.0)" fill="rgb(40,243,40)"/>
<ellipse cx="2670.0" cy="480.0" rx="5.9" ry="4.5" transform="rotate(81 2670.0 480.0)" fill="rgb(40,245,40)"/>
<ellipse cx="2896.0" cy="350.0" rx="7.1" ry="4.1" transform="rotate(15 2896.0 350.0)" fill="rgb(42,255,42)"/>
<ellipse cx="2870.0" cy="345.0" rx="6.2" ry="4.4" transform="rotate(178 2870.0 345.0)" fill="rgb(35,214,35)"/>
<ellipse cx="2920.0" cy="345.0" rx="5.2" ry="4.6" transform="rotate(139 2920.0 345.0)" fill="rgb(41,247,41)"/>
<ellipse cx="2889.0" cy="367.6" rx="5.1" ry="3.9" transform="rotate(151 2889.0 367.6)" fill="rgb(39,237,39)"/>
<ellipse cx="2880.0" cy="380.0" rx="6.9" ry="4.1" transform="rotate(136 2880.0 380.0)" fill="rgb(37,222,37)"/>
<ellipse cx="2871.6" cy="392.0" rx="6.0" ry="4.5" transform="rotate(106 2871.6 392.0)" fill="rgb(42,255,42)"/>
<ellipse cx="2865.0" cy="405.0" rx="7.3" ry="4.3" transform="rotate(141 2865.0 405.0)" fill="rgb(33,201,33)"/>
<ellipse cx="2858.0" cy="419.0" rx="5.1" ry="3.7" transform="rotate(173 2858.0 419.0)" fill="rgb(36,217,36)"/>
</g>
</g>
<text x="2772.60" y="461.36" font-size="45.0" fill="#fff" text-anchor="middle" font-weight="bold" font-style="normal" >mitochondria</text>
<text x="2771.50" y="499.78" font-size="44.5" fill="#fff" text-anchor="middle" font-weight="bold" font-style="normal" >tracker</text>
</svg>
</body></html>
